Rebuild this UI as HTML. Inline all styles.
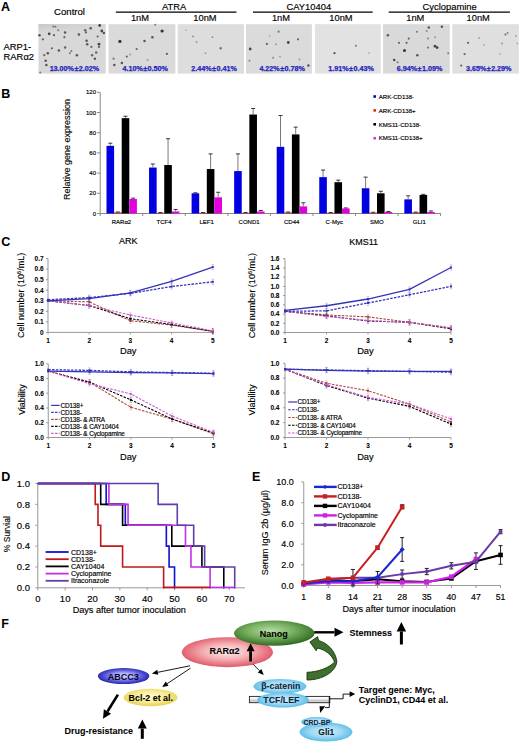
<!DOCTYPE html>
<html><head><meta charset="utf-8"><style>
html,body{margin:0;padding:0;background:#fff;}
svg{display:block;font-family:"Liberation Sans", sans-serif;}
</style></head><body>
<svg width="520" height="742" viewBox="0 0 520 742">
<rect width="520" height="742" fill="#fff"/>

<defs>
<filter id="fb" x="-100%" y="-100%" width="300%" height="300%"><feGaussianBlur stdDeviation="0.45"/></filter>
<linearGradient id="gTop" x1="0" y1="0" x2="1" y2="1"><stop offset="0" stop-color="#c4c4c4"/><stop offset="0.5" stop-color="#d4d4d4" stop-opacity="0.6"/><stop offset="1" stop-color="#dadada" stop-opacity="0"/></linearGradient>
<radialGradient id="gPink" cx="50%" cy="48%" r="52%"><stop offset="0" stop-color="#fdf0f0"/><stop offset="0.5" stop-color="#f4b0b4"/><stop offset="1" stop-color="#e05868"/></radialGradient>
<radialGradient id="gGreen" cx="45%" cy="40%" r="58%"><stop offset="0" stop-color="#b8dca8"/><stop offset="0.5" stop-color="#78b060"/><stop offset="1" stop-color="#346e26"/></radialGradient>
<radialGradient id="gBlue" cx="50%" cy="48%" r="52%"><stop offset="0" stop-color="#e0e0ff"/><stop offset="0.35" stop-color="#a8a8fa"/><stop offset="0.7" stop-color="#5858dc"/><stop offset="1" stop-color="#2424a8"/></radialGradient>
<radialGradient id="gYel" cx="50%" cy="45%" r="55%"><stop offset="0" stop-color="#fffbd8"/><stop offset="0.6" stop-color="#f8eb90"/><stop offset="1" stop-color="#e6d050"/></radialGradient>
<radialGradient id="gCyan" cx="50%" cy="48%" r="52%"><stop offset="0" stop-color="#d4f0fb"/><stop offset="0.55" stop-color="#a0daf3"/><stop offset="1" stop-color="#5cbde8"/></radialGradient>
<linearGradient id="gBar" x1="0" y1="0" x2="0" y2="1"><stop offset="0" stop-color="#ffffff"/><stop offset="0.45" stop-color="#f4f4f4"/><stop offset="0.55" stop-color="#c8c8c8"/><stop offset="1" stop-color="#d8d8d8"/></linearGradient>
<marker id="ah" markerWidth="6" markerHeight="6" refX="5.5" refY="3" orient="auto" markerUnits="userSpaceOnUse"><path d="M0,0 L6,3 L0,6 Z" fill="#000"/></marker>
</defs>

<text x="1.00" y="10.60" font-size="12.5" text-anchor="start" font-weight="bold" fill="#000" stroke="#000" stroke-width="0.06" >A</text>
<text x="69.50" y="14.80" font-size="9.6" text-anchor="middle" font-weight="normal" fill="#000" stroke="#000" stroke-width="0.16" >Control</text>
<text x="174.20" y="9.80" font-size="9.4" text-anchor="middle" font-weight="normal" fill="#000" stroke="#000" stroke-width="0.16" >ATRA</text>
<line x1="115.90" y1="12.10" x2="236.50" y2="12.10" stroke="#000" stroke-width="1.3" />
<text x="140.00" y="21.40" font-size="9.3" text-anchor="middle" font-weight="normal" fill="#000" stroke="#000" stroke-width="0.16" >1nM</text>
<text x="205.00" y="21.40" font-size="9.3" text-anchor="middle" font-weight="normal" fill="#000" stroke="#000" stroke-width="0.16" >10nM</text>
<text x="308.80" y="9.80" font-size="9.4" text-anchor="middle" font-weight="normal" fill="#000" stroke="#000" stroke-width="0.16" >CAY10404</text>
<line x1="253.00" y1="12.10" x2="372.70" y2="12.10" stroke="#000" stroke-width="1.3" />
<text x="281.00" y="21.40" font-size="9.3" text-anchor="middle" font-weight="normal" fill="#000" stroke="#000" stroke-width="0.16" >1nM</text>
<text x="341.00" y="21.40" font-size="9.3" text-anchor="middle" font-weight="normal" fill="#000" stroke="#000" stroke-width="0.16" >10nM</text>
<text x="449.70" y="9.80" font-size="9.4" text-anchor="middle" font-weight="normal" fill="#000" stroke="#000" stroke-width="0.16" >Cyclopamine</text>
<line x1="388.70" y1="12.10" x2="509.90" y2="12.10" stroke="#000" stroke-width="1.3" />
<text x="415.30" y="21.40" font-size="9.3" text-anchor="middle" font-weight="normal" fill="#000" stroke="#000" stroke-width="0.16" >1nM</text>
<text x="478.20" y="21.40" font-size="9.3" text-anchor="middle" font-weight="normal" fill="#000" stroke="#000" stroke-width="0.16" >10nM</text>
<text x="3.40" y="49.60" font-size="9.4" text-anchor="start" font-weight="normal" fill="#000" stroke="#000" stroke-width="0.16" >ARP1-</text>
<text x="3.60" y="60.30" font-size="9.4" text-anchor="start" font-weight="normal" fill="#000" stroke="#000" stroke-width="0.16" >RAR&#945;2</text>
<rect x="38.50" y="24.20" width="67.20" height="49.40" fill="#d8d8d8" />
<rect x="38.50" y="24.2" width="67.20" height="8" fill="url(#gTop)"/>
<circle cx="49.2" cy="33.8" r="1.38" fill="#444" filter="url(#fb)"/>
<circle cx="54.0" cy="35.2" r="1.12" fill="#666" filter="url(#fb)"/>
<circle cx="58.2" cy="30.3" r="1.00" fill="#777" filter="url(#fb)"/>
<circle cx="65.1" cy="32.4" r="1.25" fill="#555" filter="url(#fb)"/>
<circle cx="64.4" cy="37.2" r="1.12" fill="#666" filter="url(#fb)"/>
<circle cx="78.9" cy="34.5" r="1.25" fill="#555" filter="url(#fb)"/>
<circle cx="85.2" cy="30.3" r="1.25" fill="#666" filter="url(#fb)"/>
<circle cx="90.7" cy="28.2" r="1.25" fill="#555" filter="url(#fb)"/>
<circle cx="99.7" cy="25.5" r="1.38" fill="#444" filter="url(#fb)"/>
<circle cx="101.8" cy="31.0" r="1.38" fill="#444" filter="url(#fb)"/>
<circle cx="103.9" cy="33.1" r="1.25" fill="#555" filter="url(#fb)"/>
<circle cx="39.5" cy="35.2" r="1.25" fill="#555" filter="url(#fb)"/>
<circle cx="42.9" cy="39.3" r="1.12" fill="#666" filter="url(#fb)"/>
<circle cx="51.9" cy="48.3" r="1.12" fill="#666" filter="url(#fb)"/>
<circle cx="58.9" cy="50.4" r="1.25" fill="#555" filter="url(#fb)"/>
<circle cx="65.1" cy="47.6" r="1.25" fill="#666" filter="url(#fb)"/>
<circle cx="86.6" cy="40.7" r="1.25" fill="#555" filter="url(#fb)"/>
<circle cx="87.2" cy="44.2" r="1.25" fill="#555" filter="url(#fb)"/>
<circle cx="97.6" cy="36.5" r="1.12" fill="#666" filter="url(#fb)"/>
<circle cx="99.0" cy="44.2" r="1.38" fill="#444" filter="url(#fb)"/>
<circle cx="91.4" cy="46.9" r="1.12" fill="#666" filter="url(#fb)"/>
<circle cx="71.3" cy="51.1" r="1.00" fill="#777" filter="url(#fb)"/>
<circle cx="76.9" cy="55.2" r="1.25" fill="#555" filter="url(#fb)"/>
<circle cx="47.8" cy="53.2" r="1.25" fill="#555" filter="url(#fb)"/>
<circle cx="44.3" cy="55.2" r="1.12" fill="#666" filter="url(#fb)"/>
<circle cx="45.7" cy="60.8" r="1.25" fill="#555" filter="url(#fb)"/>
<circle cx="46.4" cy="64.9" r="1.25" fill="#555" filter="url(#fb)"/>
<circle cx="96.2" cy="52.5" r="1.25" fill="#666" filter="url(#fb)"/>
<circle cx="94.9" cy="58.7" r="1.25" fill="#555" filter="url(#fb)"/>
<circle cx="92.1" cy="55.2" r="1.25" fill="#666" filter="url(#fb)"/>
<circle cx="69.9" cy="53.2" r="1.00" fill="#777" filter="url(#fb)"/>
<circle cx="55.4" cy="26.8" r="1.00" fill="#777" filter="url(#fb)"/>
<circle cx="53.3" cy="26.4" r="1.00" fill="#777" filter="url(#fb)"/>
<circle cx="40.2" cy="72.6" r="1.00" fill="#777" filter="url(#fb)"/>
<circle cx="99.0" cy="46.9" r="1.12" fill="#666" filter="url(#fb)"/>
<circle cx="85.9" cy="32.4" r="1.12" fill="#666" filter="url(#fb)"/>
<text x="74.40" y="71.40" font-size="7.2" text-anchor="middle" font-weight="bold" fill="#2424c0"  stroke="#2424c0" stroke-width="0.25">13.00%<tspan dx="0.4">&#177;</tspan><tspan dx="0.4">2.02%</tspan></text>
<rect x="108.60" y="24.20" width="66.80" height="49.40" fill="#dadada" />
<circle cx="119.9" cy="41.4" r="1.62" fill="#333" filter="url(#fb)"/>
<circle cx="162.1" cy="31.0" r="1.62" fill="#333" filter="url(#fb)"/>
<circle cx="152.4" cy="37.2" r="1.25" fill="#555" filter="url(#fb)"/>
<circle cx="144.5" cy="41.1" r="1.25" fill="#555" filter="url(#fb)"/>
<circle cx="136.7" cy="49.0" r="1.12" fill="#666" filter="url(#fb)"/>
<circle cx="126.8" cy="56.6" r="1.12" fill="#666" filter="url(#fb)"/>
<circle cx="113.6" cy="58.7" r="1.12" fill="#777" filter="url(#fb)"/>
<circle cx="114.3" cy="64.9" r="1.25" fill="#555" filter="url(#fb)"/>
<circle cx="121.9" cy="62.9" r="1.25" fill="#555" filter="url(#fb)"/>
<circle cx="166.9" cy="53.9" r="1.12" fill="#666" filter="url(#fb)"/>
<circle cx="147.6" cy="60.1" r="1.00" fill="#999" filter="url(#fb)"/>
<circle cx="130.2" cy="54.5" r="1.00" fill="#999" filter="url(#fb)"/>
<circle cx="155.2" cy="24.8" r="1.00" fill="#777" filter="url(#fb)"/>
<text x="145.20" y="71.40" font-size="7.2" text-anchor="middle" font-weight="bold" fill="#2424c0"  stroke="#2424c0" stroke-width="0.25">4.10%<tspan dx="0.4">&#177;</tspan><tspan dx="0.4">0.50%</tspan></text>
<rect x="177.70" y="24.20" width="66.30" height="49.40" fill="#dddddd" />
<circle cx="193.0" cy="36.5" r="0.88" fill="#888" filter="url(#fb)"/>
<circle cx="196.5" cy="42.1" r="1.00" fill="#999" filter="url(#fb)"/>
<circle cx="212.4" cy="37.2" r="0.88" fill="#888" filter="url(#fb)"/>
<circle cx="220.7" cy="48.3" r="1.25" fill="#777" filter="url(#fb)"/>
<circle cx="205.5" cy="53.2" r="0.88" fill="#999" filter="url(#fb)"/>
<circle cx="186.1" cy="30.3" r="0.75" fill="#999" filter="url(#fb)"/>
<text x="214.05" y="71.40" font-size="7.2" text-anchor="middle" font-weight="bold" fill="#2424c0"  stroke="#2424c0" stroke-width="0.25">2.44%<tspan dx="0.4">&#177;</tspan><tspan dx="0.4">0.41%</tspan></text>
<rect x="246.00" y="24.20" width="65.90" height="49.40" fill="#dbdbdb" />
<circle cx="278.6" cy="31.7" r="1.12" fill="#777" filter="url(#fb)"/>
<circle cx="288.3" cy="42.5" r="1.38" fill="#444" filter="url(#fb)"/>
<circle cx="298.0" cy="39.3" r="1.12" fill="#666" filter="url(#fb)"/>
<circle cx="266.9" cy="43.9" r="1.12" fill="#666" filter="url(#fb)"/>
<circle cx="250.2" cy="49.0" r="1.38" fill="#444" filter="url(#fb)"/>
<circle cx="275.9" cy="44.2" r="1.00" fill="#999" filter="url(#fb)"/>
<circle cx="249.5" cy="60.8" r="1.00" fill="#888" filter="url(#fb)"/>
<circle cx="273.1" cy="57.7" r="1.00" fill="#888" filter="url(#fb)"/>
<circle cx="280.0" cy="56.6" r="0.88" fill="#999" filter="url(#fb)"/>
<circle cx="299.4" cy="59.4" r="1.00" fill="#999" filter="url(#fb)"/>
<circle cx="308.4" cy="65.6" r="1.25" fill="#555" filter="url(#fb)"/>
<circle cx="269.6" cy="35.9" r="0.88" fill="#aaa" filter="url(#fb)"/>
<text x="282.15" y="71.40" font-size="7.2" text-anchor="middle" font-weight="bold" fill="#2424c0"  stroke="#2424c0" stroke-width="0.25">4.22%<tspan dx="0.4">&#177;</tspan><tspan dx="0.4">0.78%</tspan></text>
<rect x="315.00" y="24.20" width="65.80" height="49.40" fill="#e2e2e2" />
<circle cx="334.5" cy="53.2" r="1.12" fill="#555" filter="url(#fb)"/>
<circle cx="355.9" cy="45.8" r="1.00" fill="#777" filter="url(#fb)"/>
<circle cx="369.1" cy="53.2" r="0.88" fill="#aaa" filter="url(#fb)"/>
<text x="351.10" y="71.40" font-size="7.2" text-anchor="middle" font-weight="bold" fill="#2424c0"  stroke="#2424c0" stroke-width="0.25">1.91%<tspan dx="0.4">&#177;</tspan><tspan dx="0.4">0.43%</tspan></text>
<rect x="383.00" y="24.20" width="66.80" height="49.40" fill="#d9d9d9" />
<circle cx="387.9" cy="35.2" r="1.25" fill="#555" filter="url(#fb)"/>
<circle cx="428.8" cy="27.5" r="1.25" fill="#555" filter="url(#fb)"/>
<circle cx="441.9" cy="26.8" r="1.25" fill="#555" filter="url(#fb)"/>
<circle cx="417.0" cy="31.7" r="1.00" fill="#777" filter="url(#fb)"/>
<circle cx="426.7" cy="31.0" r="1.00" fill="#888" filter="url(#fb)"/>
<circle cx="408.7" cy="38.6" r="1.12" fill="#666" filter="url(#fb)"/>
<circle cx="399.0" cy="42.8" r="1.12" fill="#666" filter="url(#fb)"/>
<circle cx="406.6" cy="42.8" r="1.12" fill="#666" filter="url(#fb)"/>
<circle cx="428.1" cy="38.6" r="1.00" fill="#888" filter="url(#fb)"/>
<circle cx="435.0" cy="46.2" r="1.38" fill="#444" filter="url(#fb)"/>
<circle cx="437.1" cy="47.6" r="1.38" fill="#444" filter="url(#fb)"/>
<circle cx="428.1" cy="47.6" r="1.12" fill="#777" filter="url(#fb)"/>
<circle cx="404.5" cy="50.4" r="1.50" fill="#333" filter="url(#fb)"/>
<circle cx="417.3" cy="55.2" r="1.25" fill="#555" filter="url(#fb)"/>
<circle cx="394.2" cy="60.1" r="1.25" fill="#444" filter="url(#fb)"/>
<circle cx="397.6" cy="62.2" r="1.00" fill="#777" filter="url(#fb)"/>
<circle cx="448.2" cy="53.2" r="1.00" fill="#777" filter="url(#fb)"/>
<circle cx="435.0" cy="37.2" r="1.00" fill="#999" filter="url(#fb)"/>
<text x="419.60" y="71.40" font-size="7.2" text-anchor="middle" font-weight="bold" fill="#2424c0"  stroke="#2424c0" stroke-width="0.25">6.94%<tspan dx="0.4">&#177;</tspan><tspan dx="0.4">1.09%</tspan></text>
<rect x="452.30" y="24.20" width="66.50" height="49.40" fill="#dfdfdf" />
<circle cx="468.1" cy="42.8" r="1.12" fill="#666" filter="url(#fb)"/>
<circle cx="464.6" cy="54.1" r="1.12" fill="#666" filter="url(#fb)"/>
<circle cx="461.2" cy="65.6" r="1.12" fill="#666" filter="url(#fb)"/>
<circle cx="505.5" cy="34.5" r="1.12" fill="#777" filter="url(#fb)"/>
<circle cx="507.6" cy="33.1" r="1.00" fill="#888" filter="url(#fb)"/>
<circle cx="502.0" cy="43.5" r="1.00" fill="#999" filter="url(#fb)"/>
<circle cx="515.9" cy="35.9" r="0.88" fill="#999" filter="url(#fb)"/>
<circle cx="479.2" cy="37.9" r="0.88" fill="#999" filter="url(#fb)"/>
<circle cx="484.0" cy="44.9" r="0.88" fill="#aaa" filter="url(#fb)"/>
<circle cx="499.9" cy="53.9" r="0.88" fill="#aaa" filter="url(#fb)"/>
<circle cx="517.3" cy="43.5" r="0.88" fill="#aaa" filter="url(#fb)"/>
<text x="488.75" y="71.40" font-size="7.2" text-anchor="middle" font-weight="bold" fill="#2424c0"  stroke="#2424c0" stroke-width="0.25">3.65%<tspan dx="0.4">&#177;</tspan><tspan dx="0.4">2.29%</tspan></text>
<text x="1.20" y="98.00" font-size="12.5" text-anchor="start" font-weight="bold" fill="#000" stroke="#000" stroke-width="0.06" >B</text>
<line x1="100.20" y1="92.40" x2="100.20" y2="213.50" stroke="#888" stroke-width="1" />
<line x1="100.20" y1="213.50" x2="440.80" y2="213.50" stroke="#888" stroke-width="1" />
<line x1="97.20" y1="213.50" x2="100.20" y2="213.50" stroke="#888" stroke-width="1" />
<text x="96.00" y="215.60" font-size="6" text-anchor="end" font-weight="normal" fill="#000" stroke="#000" stroke-width="0.16" >0</text>
<line x1="97.20" y1="193.30" x2="100.20" y2="193.30" stroke="#888" stroke-width="1" />
<text x="96.00" y="195.40" font-size="6" text-anchor="end" font-weight="normal" fill="#000" stroke="#000" stroke-width="0.16" >20</text>
<line x1="97.20" y1="173.10" x2="100.20" y2="173.10" stroke="#888" stroke-width="1" />
<text x="96.00" y="175.20" font-size="6" text-anchor="end" font-weight="normal" fill="#000" stroke="#000" stroke-width="0.16" >40</text>
<line x1="97.20" y1="152.90" x2="100.20" y2="152.90" stroke="#888" stroke-width="1" />
<text x="96.00" y="155.00" font-size="6" text-anchor="end" font-weight="normal" fill="#000" stroke="#000" stroke-width="0.16" >60</text>
<line x1="97.20" y1="132.70" x2="100.20" y2="132.70" stroke="#888" stroke-width="1" />
<text x="96.00" y="134.80" font-size="6" text-anchor="end" font-weight="normal" fill="#000" stroke="#000" stroke-width="0.16" >80</text>
<line x1="97.20" y1="112.50" x2="100.20" y2="112.50" stroke="#888" stroke-width="1" />
<text x="96.00" y="114.60" font-size="6" text-anchor="end" font-weight="normal" fill="#000" stroke="#000" stroke-width="0.16" >100</text>
<line x1="97.20" y1="92.30" x2="100.20" y2="92.30" stroke="#888" stroke-width="1" />
<text x="96.00" y="94.40" font-size="6" text-anchor="end" font-weight="normal" fill="#000" stroke="#000" stroke-width="0.16" >120</text>
<line x1="100.20" y1="213.50" x2="100.20" y2="216.00" stroke="#888" stroke-width="1" />
<line x1="142.75" y1="213.50" x2="142.75" y2="216.00" stroke="#888" stroke-width="1" />
<line x1="185.30" y1="213.50" x2="185.30" y2="216.00" stroke="#888" stroke-width="1" />
<line x1="227.85" y1="213.50" x2="227.85" y2="216.00" stroke="#888" stroke-width="1" />
<line x1="270.40" y1="213.50" x2="270.40" y2="216.00" stroke="#888" stroke-width="1" />
<line x1="312.95" y1="213.50" x2="312.95" y2="216.00" stroke="#888" stroke-width="1" />
<line x1="355.50" y1="213.50" x2="355.50" y2="216.00" stroke="#888" stroke-width="1" />
<line x1="398.05" y1="213.50" x2="398.05" y2="216.00" stroke="#888" stroke-width="1" />
<line x1="440.60" y1="213.50" x2="440.60" y2="216.00" stroke="#888" stroke-width="1" />
<rect x="106.50" y="145.83" width="7.60" height="67.67" fill="#0000e0" />
<line x1="110.30" y1="143.20" x2="110.30" y2="145.83" stroke="#555" stroke-width="0.8" />
<line x1="108.30" y1="143.20" x2="112.30" y2="143.20" stroke="#333" stroke-width="1" />
<rect x="114.10" y="212.49" width="7.60" height="1.01" fill="#c01010" />
<line x1="117.90" y1="211.99" x2="117.90" y2="212.49" stroke="#555" stroke-width="0.8" />
<line x1="115.90" y1="211.99" x2="119.90" y2="211.99" stroke="#333" stroke-width="1" />
<rect x="121.70" y="118.16" width="7.60" height="95.34" fill="#000000" />
<line x1="125.50" y1="116.24" x2="125.50" y2="118.16" stroke="#555" stroke-width="0.8" />
<line x1="123.50" y1="116.24" x2="127.50" y2="116.24" stroke="#333" stroke-width="1" />
<rect x="129.30" y="198.96" width="7.60" height="14.54" fill="#e000e0" />
<line x1="133.10" y1="198.15" x2="133.10" y2="198.96" stroke="#555" stroke-width="0.8" />
<line x1="131.10" y1="198.15" x2="135.10" y2="198.15" stroke="#333" stroke-width="1" />
<text x="121.47" y="223.50" font-size="6" text-anchor="middle" font-weight="normal" fill="#000" stroke="#000" stroke-width="0.16" >RAR&#945;2</text>
<rect x="149.05" y="167.55" width="7.60" height="45.95" fill="#0000e0" />
<line x1="152.85" y1="164.01" x2="152.85" y2="167.55" stroke="#555" stroke-width="0.8" />
<line x1="150.85" y1="164.01" x2="154.85" y2="164.01" stroke="#333" stroke-width="1" />
<rect x="156.65" y="212.89" width="7.60" height="0.61" fill="#c01010" />
<line x1="160.45" y1="212.49" x2="160.45" y2="212.89" stroke="#555" stroke-width="0.8" />
<line x1="158.45" y1="212.49" x2="162.45" y2="212.49" stroke="#333" stroke-width="1" />
<rect x="164.25" y="165.02" width="7.60" height="48.48" fill="#000000" />
<line x1="168.05" y1="138.76" x2="168.05" y2="165.02" stroke="#555" stroke-width="0.8" />
<line x1="166.05" y1="138.76" x2="170.05" y2="138.76" stroke="#333" stroke-width="1" />
<rect x="171.85" y="211.48" width="7.60" height="2.02" fill="#e000e0" />
<line x1="175.65" y1="209.46" x2="175.65" y2="211.48" stroke="#555" stroke-width="0.8" />
<line x1="173.65" y1="209.46" x2="177.65" y2="209.46" stroke="#333" stroke-width="1" />
<text x="164.03" y="223.50" font-size="6" text-anchor="middle" font-weight="normal" fill="#000" stroke="#000" stroke-width="0.16" >TCF4</text>
<rect x="191.60" y="193.30" width="7.60" height="20.20" fill="#0000e0" />
<line x1="195.40" y1="192.79" x2="195.40" y2="193.30" stroke="#555" stroke-width="0.8" />
<line x1="193.40" y1="192.79" x2="197.40" y2="192.79" stroke="#333" stroke-width="1" />
<rect x="199.20" y="212.89" width="7.60" height="0.61" fill="#c01010" />
<line x1="203.00" y1="212.49" x2="203.00" y2="212.89" stroke="#555" stroke-width="0.8" />
<line x1="201.00" y1="212.49" x2="205.00" y2="212.49" stroke="#333" stroke-width="1" />
<rect x="206.80" y="169.06" width="7.60" height="44.44" fill="#000000" />
<line x1="210.60" y1="153.91" x2="210.60" y2="169.06" stroke="#555" stroke-width="0.8" />
<line x1="208.60" y1="153.91" x2="212.60" y2="153.91" stroke="#333" stroke-width="1" />
<rect x="214.40" y="197.34" width="7.60" height="16.16" fill="#e000e0" />
<line x1="218.20" y1="192.29" x2="218.20" y2="197.34" stroke="#555" stroke-width="0.8" />
<line x1="216.20" y1="192.29" x2="220.20" y2="192.29" stroke="#333" stroke-width="1" />
<text x="206.58" y="223.50" font-size="6" text-anchor="middle" font-weight="normal" fill="#000" stroke="#000" stroke-width="0.16" >LEF1</text>
<rect x="234.15" y="171.08" width="7.60" height="42.42" fill="#0000e0" />
<line x1="237.95" y1="153.91" x2="237.95" y2="171.08" stroke="#555" stroke-width="0.8" />
<line x1="235.95" y1="153.91" x2="239.95" y2="153.91" stroke="#333" stroke-width="1" />
<rect x="241.75" y="212.89" width="7.60" height="0.61" fill="#c01010" />
<line x1="245.55" y1="212.49" x2="245.55" y2="212.89" stroke="#555" stroke-width="0.8" />
<line x1="243.55" y1="212.49" x2="247.55" y2="212.49" stroke="#333" stroke-width="1" />
<rect x="249.35" y="114.52" width="7.60" height="98.98" fill="#000000" />
<line x1="253.15" y1="108.46" x2="253.15" y2="114.52" stroke="#555" stroke-width="0.8" />
<line x1="251.15" y1="108.46" x2="255.15" y2="108.46" stroke="#333" stroke-width="1" />
<rect x="256.95" y="211.48" width="7.60" height="2.02" fill="#e000e0" />
<line x1="260.75" y1="210.47" x2="260.75" y2="211.48" stroke="#555" stroke-width="0.8" />
<line x1="258.75" y1="210.47" x2="262.75" y2="210.47" stroke="#333" stroke-width="1" />
<text x="249.12" y="223.50" font-size="6" text-anchor="middle" font-weight="normal" fill="#000" stroke="#000" stroke-width="0.16" >COND1</text>
<rect x="276.70" y="146.84" width="7.60" height="66.66" fill="#0000e0" />
<line x1="280.50" y1="115.53" x2="280.50" y2="146.84" stroke="#555" stroke-width="0.8" />
<line x1="278.50" y1="115.53" x2="282.50" y2="115.53" stroke="#333" stroke-width="1" />
<rect x="284.30" y="212.49" width="7.60" height="1.01" fill="#c01010" />
<line x1="288.10" y1="211.99" x2="288.10" y2="212.49" stroke="#555" stroke-width="0.8" />
<line x1="286.10" y1="211.99" x2="290.10" y2="211.99" stroke="#333" stroke-width="1" />
<rect x="291.90" y="134.42" width="7.60" height="79.08" fill="#000000" />
<line x1="295.70" y1="127.14" x2="295.70" y2="134.42" stroke="#555" stroke-width="0.8" />
<line x1="293.70" y1="127.14" x2="297.70" y2="127.14" stroke="#333" stroke-width="1" />
<rect x="299.50" y="206.43" width="7.60" height="7.07" fill="#e000e0" />
<line x1="303.30" y1="202.79" x2="303.30" y2="206.43" stroke="#555" stroke-width="0.8" />
<line x1="301.30" y1="202.79" x2="305.30" y2="202.79" stroke="#333" stroke-width="1" />
<text x="291.67" y="223.50" font-size="6" text-anchor="middle" font-weight="normal" fill="#000" stroke="#000" stroke-width="0.16" >CD44</text>
<rect x="319.25" y="177.14" width="7.60" height="36.36" fill="#0000e0" />
<line x1="323.05" y1="170.07" x2="323.05" y2="177.14" stroke="#555" stroke-width="0.8" />
<line x1="321.05" y1="170.07" x2="325.05" y2="170.07" stroke="#333" stroke-width="1" />
<rect x="326.85" y="212.89" width="7.60" height="0.61" fill="#c01010" />
<line x1="330.65" y1="212.49" x2="330.65" y2="212.89" stroke="#555" stroke-width="0.8" />
<line x1="328.65" y1="212.49" x2="332.65" y2="212.49" stroke="#333" stroke-width="1" />
<rect x="334.45" y="182.19" width="7.60" height="31.31" fill="#000000" />
<line x1="338.25" y1="180.17" x2="338.25" y2="182.19" stroke="#555" stroke-width="0.8" />
<line x1="336.25" y1="180.17" x2="340.25" y2="180.17" stroke="#333" stroke-width="1" />
<rect x="342.05" y="208.45" width="7.60" height="5.05" fill="#e000e0" />
<line x1="345.85" y1="207.94" x2="345.85" y2="208.45" stroke="#555" stroke-width="0.8" />
<line x1="343.85" y1="207.94" x2="347.85" y2="207.94" stroke="#333" stroke-width="1" />
<text x="334.22" y="223.50" font-size="6" text-anchor="middle" font-weight="normal" fill="#000" stroke="#000" stroke-width="0.16" >C-Myc</text>
<rect x="361.80" y="188.25" width="7.60" height="25.25" fill="#0000e0" />
<line x1="365.60" y1="177.14" x2="365.60" y2="188.25" stroke="#555" stroke-width="0.8" />
<line x1="363.60" y1="177.14" x2="367.60" y2="177.14" stroke="#333" stroke-width="1" />
<rect x="369.40" y="212.69" width="7.60" height="0.81" fill="#c01010" />
<line x1="373.20" y1="212.29" x2="373.20" y2="212.69" stroke="#555" stroke-width="0.8" />
<line x1="371.20" y1="212.29" x2="375.20" y2="212.29" stroke="#333" stroke-width="1" />
<rect x="377.00" y="193.30" width="7.60" height="20.20" fill="#000000" />
<line x1="380.80" y1="191.28" x2="380.80" y2="193.30" stroke="#555" stroke-width="0.8" />
<line x1="378.80" y1="191.28" x2="382.80" y2="191.28" stroke="#333" stroke-width="1" />
<rect x="384.60" y="211.99" width="7.60" height="1.52" fill="#e000e0" />
<line x1="388.40" y1="211.48" x2="388.40" y2="211.99" stroke="#555" stroke-width="0.8" />
<line x1="386.40" y1="211.48" x2="390.40" y2="211.48" stroke="#333" stroke-width="1" />
<text x="376.77" y="223.50" font-size="6" text-anchor="middle" font-weight="normal" fill="#000" stroke="#000" stroke-width="0.16" >SMO</text>
<rect x="404.35" y="199.36" width="7.60" height="14.14" fill="#0000e0" />
<line x1="408.15" y1="195.82" x2="408.15" y2="199.36" stroke="#555" stroke-width="0.8" />
<line x1="406.15" y1="195.82" x2="410.15" y2="195.82" stroke="#333" stroke-width="1" />
<rect x="411.95" y="212.49" width="7.60" height="1.01" fill="#c01010" />
<line x1="415.75" y1="212.09" x2="415.75" y2="212.49" stroke="#555" stroke-width="0.8" />
<line x1="413.75" y1="212.09" x2="417.75" y2="212.09" stroke="#333" stroke-width="1" />
<rect x="419.55" y="194.92" width="7.60" height="18.58" fill="#000000" />
<line x1="423.35" y1="194.31" x2="423.35" y2="194.92" stroke="#555" stroke-width="0.8" />
<line x1="421.35" y1="194.31" x2="425.35" y2="194.31" stroke="#333" stroke-width="1" />
<rect x="427.15" y="211.99" width="7.60" height="1.52" fill="#e000e0" />
<line x1="430.95" y1="210.97" x2="430.95" y2="211.99" stroke="#555" stroke-width="0.8" />
<line x1="428.95" y1="210.97" x2="432.95" y2="210.97" stroke="#333" stroke-width="1" />
<text x="419.32" y="223.50" font-size="6" text-anchor="middle" font-weight="normal" fill="#000" stroke="#000" stroke-width="0.16" >GLI1</text>
<text transform="translate(70,149.5) rotate(-90)" x="0" y="0" font-size="9" text-anchor="middle" fill="#000" stroke="#000" stroke-width="0.12">Relative gene expression</text>
<rect x="373.40" y="95.20" width="2.60" height="2.60" fill="#0000e0" />
<text x="378.80" y="98.70" font-size="6.05" text-anchor="start" font-weight="normal" fill="#000" stroke="#000" stroke-width="0.16" >ARK-CD138-</text>
<rect x="373.40" y="109.10" width="2.60" height="2.60" fill="#e03010" />
<text x="378.80" y="112.60" font-size="6.05" text-anchor="start" font-weight="normal" fill="#000" stroke="#000" stroke-width="0.16" >ARK-CD138+</text>
<rect x="373.40" y="123.00" width="2.60" height="2.60" fill="#000000" />
<text x="378.80" y="126.50" font-size="6.05" text-anchor="start" font-weight="normal" fill="#000" stroke="#000" stroke-width="0.16" >KMS11-CD138-</text>
<rect x="373.40" y="136.90" width="2.60" height="2.60" fill="#c040e0" />
<text x="378.80" y="140.40" font-size="6.05" text-anchor="start" font-weight="normal" fill="#000" stroke="#000" stroke-width="0.16" >KMS11-CD138+</text>
<text x="1.20" y="246.20" font-size="12.5" text-anchor="start" font-weight="bold" fill="#000" stroke="#000" stroke-width="0.06" >C</text>
<text x="128.25" y="244.10" font-size="9" text-anchor="middle" font-weight="normal" fill="#000" stroke="#000" stroke-width="0.16" >ARK</text>
<text x="363.70" y="244.50" font-size="9" text-anchor="middle" font-weight="normal" fill="#000" stroke="#000" stroke-width="0.16" >KMS11</text>
<line x1="48.00" y1="258.60" x2="48.00" y2="332.40" stroke="#999" stroke-width="1" />
<line x1="48.00" y1="332.40" x2="212.80" y2="332.40" stroke="#999" stroke-width="1" />
<line x1="46.00" y1="332.40" x2="48.00" y2="332.40" stroke="#999" stroke-width="1" />
<text x="43.60" y="334.70" font-size="6.5" text-anchor="end" font-weight="bold" fill="#000" stroke="#000" stroke-width="0.06" >0</text>
<line x1="46.00" y1="321.86" x2="48.00" y2="321.86" stroke="#999" stroke-width="1" />
<text x="43.60" y="324.16" font-size="6.5" text-anchor="end" font-weight="bold" fill="#000" stroke="#000" stroke-width="0.06" >0.1</text>
<line x1="46.00" y1="311.32" x2="48.00" y2="311.32" stroke="#999" stroke-width="1" />
<text x="43.60" y="313.62" font-size="6.5" text-anchor="end" font-weight="bold" fill="#000" stroke="#000" stroke-width="0.06" >0.2</text>
<line x1="46.00" y1="300.78" x2="48.00" y2="300.78" stroke="#999" stroke-width="1" />
<text x="43.60" y="303.08" font-size="6.5" text-anchor="end" font-weight="bold" fill="#000" stroke="#000" stroke-width="0.06" >0.3</text>
<line x1="46.00" y1="290.24" x2="48.00" y2="290.24" stroke="#999" stroke-width="1" />
<text x="43.60" y="292.54" font-size="6.5" text-anchor="end" font-weight="bold" fill="#000" stroke="#000" stroke-width="0.06" >0.4</text>
<line x1="46.00" y1="279.70" x2="48.00" y2="279.70" stroke="#999" stroke-width="1" />
<text x="43.60" y="282.00" font-size="6.5" text-anchor="end" font-weight="bold" fill="#000" stroke="#000" stroke-width="0.06" >0.5</text>
<line x1="46.00" y1="269.16" x2="48.00" y2="269.16" stroke="#999" stroke-width="1" />
<text x="43.60" y="271.46" font-size="6.5" text-anchor="end" font-weight="bold" fill="#000" stroke="#000" stroke-width="0.06" >0.6</text>
<line x1="46.00" y1="258.62" x2="48.00" y2="258.62" stroke="#999" stroke-width="1" />
<text x="43.60" y="260.92" font-size="6.5" text-anchor="end" font-weight="bold" fill="#000" stroke="#000" stroke-width="0.06" >0.7</text>
<line x1="48.00" y1="332.40" x2="48.00" y2="334.40" stroke="#999" stroke-width="1" />
<text x="48.00" y="342.70" font-size="6.5" text-anchor="middle" font-weight="bold" fill="#000" stroke="#000" stroke-width="0.06" >1</text>
<line x1="89.20" y1="332.40" x2="89.20" y2="334.40" stroke="#999" stroke-width="1" />
<text x="89.20" y="342.70" font-size="6.5" text-anchor="middle" font-weight="bold" fill="#000" stroke="#000" stroke-width="0.06" >2</text>
<line x1="130.40" y1="332.40" x2="130.40" y2="334.40" stroke="#999" stroke-width="1" />
<text x="130.40" y="342.70" font-size="6.5" text-anchor="middle" font-weight="bold" fill="#000" stroke="#000" stroke-width="0.06" >3</text>
<line x1="171.60" y1="332.40" x2="171.60" y2="334.40" stroke="#999" stroke-width="1" />
<text x="171.60" y="342.70" font-size="6.5" text-anchor="middle" font-weight="bold" fill="#000" stroke="#000" stroke-width="0.06" >4</text>
<line x1="212.80" y1="332.40" x2="212.80" y2="334.40" stroke="#999" stroke-width="1" />
<text x="212.80" y="342.70" font-size="6.5" text-anchor="middle" font-weight="bold" fill="#000" stroke="#000" stroke-width="0.06" >5</text>
<polyline points="48.00,300.78 89.20,301.83 130.40,320.81 171.60,325.02 212.80,331.35" fill="none" stroke="#a84a38" stroke-width="1.1" stroke-dasharray="2.5,1.3" stroke-linejoin="round"/>
<rect x="47.00" y="299.78" width="2" height="2" fill="#a84a38"/>
<rect x="88.20" y="300.83" width="2" height="2" fill="#a84a38"/>
<path d="M89.20,299.23V304.43M88.00,299.23H90.40M88.00,304.43H90.40" stroke="#a84a38" stroke-width="0.6" opacity="0.4" fill="none"/>
<rect x="129.40" y="319.81" width="2" height="2" fill="#a84a38"/>
<path d="M130.40,318.21V323.41M129.20,318.21H131.60M129.20,323.41H131.60" stroke="#a84a38" stroke-width="0.6" opacity="0.4" fill="none"/>
<rect x="170.60" y="324.02" width="2" height="2" fill="#a84a38"/>
<path d="M171.60,322.42V327.62M170.40,322.42H172.80M170.40,327.62H172.80" stroke="#a84a38" stroke-width="0.6" opacity="0.4" fill="none"/>
<rect x="211.80" y="330.35" width="2" height="2" fill="#a84a38"/>
<path d="M212.80,328.75V333.95M211.60,328.75H214.00M211.60,333.95H214.00" stroke="#a84a38" stroke-width="0.6" opacity="0.4" fill="none"/>
<polyline points="48.00,300.78 89.20,305.52 130.40,318.70 171.60,324.50 212.80,331.35" fill="none" stroke="#000000" stroke-width="1.1" stroke-dasharray="2.5,1.3" stroke-linejoin="round"/>
<rect x="47.00" y="299.78" width="2" height="2" fill="#000000"/>
<rect x="88.20" y="304.52" width="2" height="2" fill="#000000"/>
<path d="M89.20,302.92V308.12M88.00,302.92H90.40M88.00,308.12H90.40" stroke="#000000" stroke-width="0.6" opacity="0.4" fill="none"/>
<rect x="129.40" y="317.70" width="2" height="2" fill="#000000"/>
<path d="M130.40,316.10V321.30M129.20,316.10H131.60M129.20,321.30H131.60" stroke="#000000" stroke-width="0.6" opacity="0.4" fill="none"/>
<rect x="170.60" y="323.50" width="2" height="2" fill="#000000"/>
<path d="M171.60,321.89V327.10M170.40,321.89H172.80M170.40,327.10H172.80" stroke="#000000" stroke-width="0.6" opacity="0.4" fill="none"/>
<rect x="211.80" y="330.35" width="2" height="2" fill="#000000"/>
<path d="M212.80,328.75V333.95M211.60,328.75H214.00M211.60,333.95H214.00" stroke="#000000" stroke-width="0.6" opacity="0.4" fill="none"/>
<polyline points="48.00,300.78 89.20,305.52 130.40,315.01 171.60,322.91 212.80,330.82" fill="none" stroke="#cc5ad4" stroke-width="1.1" stroke-dasharray="2.5,1.3" stroke-linejoin="round"/>
<rect x="47.00" y="299.78" width="2" height="2" fill="#cc5ad4"/>
<rect x="88.20" y="304.52" width="2" height="2" fill="#cc5ad4"/>
<path d="M89.20,302.92V308.12M88.00,302.92H90.40M88.00,308.12H90.40" stroke="#cc5ad4" stroke-width="0.6" opacity="0.4" fill="none"/>
<rect x="129.40" y="314.01" width="2" height="2" fill="#cc5ad4"/>
<path d="M130.40,312.41V317.61M129.20,312.41H131.60M129.20,317.61H131.60" stroke="#cc5ad4" stroke-width="0.6" opacity="0.4" fill="none"/>
<rect x="170.60" y="321.91" width="2" height="2" fill="#cc5ad4"/>
<path d="M171.60,320.31V325.51M170.40,320.31H172.80M170.40,325.51H172.80" stroke="#cc5ad4" stroke-width="0.6" opacity="0.4" fill="none"/>
<rect x="211.80" y="329.82" width="2" height="2" fill="#cc5ad4"/>
<path d="M212.80,328.22V333.42M211.60,328.22H214.00M211.60,333.42H214.00" stroke="#cc5ad4" stroke-width="0.6" opacity="0.4" fill="none"/>
<polyline points="48.00,299.73 89.20,297.62 130.40,293.40 171.60,286.55 212.80,281.81" fill="none" stroke="#3434b8" stroke-width="1.3" stroke-dasharray="2.5,1.3" stroke-linejoin="round"/>
<rect x="47.00" y="298.73" width="2" height="2" fill="#3434b8"/>
<rect x="88.20" y="296.62" width="2" height="2" fill="#3434b8"/>
<path d="M89.20,295.02V300.22M88.00,295.02H90.40M88.00,300.22H90.40" stroke="#3434b8" stroke-width="0.6" opacity="0.4" fill="none"/>
<rect x="129.40" y="292.40" width="2" height="2" fill="#3434b8"/>
<path d="M130.40,290.80V296.00M129.20,290.80H131.60M129.20,296.00H131.60" stroke="#3434b8" stroke-width="0.6" opacity="0.4" fill="none"/>
<rect x="170.60" y="285.55" width="2" height="2" fill="#3434b8"/>
<path d="M171.60,283.95V289.15M170.40,283.95H172.80M170.40,289.15H172.80" stroke="#3434b8" stroke-width="0.6" opacity="0.4" fill="none"/>
<rect x="211.80" y="280.81" width="2" height="2" fill="#3434b8"/>
<path d="M212.80,279.21V284.41M211.60,279.21H214.00M211.60,284.41H214.00" stroke="#3434b8" stroke-width="0.6" opacity="0.4" fill="none"/>
<polyline points="48.00,300.78 89.20,298.67 130.40,292.88 171.60,281.39 212.80,267.05" fill="none" stroke="#3434b8" stroke-width="1.3"  stroke-linejoin="round"/>
<rect x="47.00" y="299.78" width="2" height="2" fill="#3434b8"/>
<rect x="88.20" y="297.67" width="2" height="2" fill="#3434b8"/>
<path d="M89.20,296.07V301.27M88.00,296.07H90.40M88.00,301.27H90.40" stroke="#3434b8" stroke-width="0.6" opacity="0.4" fill="none"/>
<rect x="129.40" y="291.88" width="2" height="2" fill="#3434b8"/>
<path d="M130.40,290.27V295.48M129.20,290.27H131.60M129.20,295.48H131.60" stroke="#3434b8" stroke-width="0.6" opacity="0.4" fill="none"/>
<rect x="170.60" y="280.39" width="2" height="2" fill="#3434b8"/>
<path d="M171.60,278.79V283.99M170.40,278.79H172.80M170.40,283.99H172.80" stroke="#3434b8" stroke-width="0.6" opacity="0.4" fill="none"/>
<rect x="211.80" y="266.05" width="2" height="2" fill="#3434b8"/>
<path d="M212.80,264.45V269.65M211.60,264.45H214.00M211.60,269.65H214.00" stroke="#3434b8" stroke-width="0.6" opacity="0.4" fill="none"/>
<text transform="translate(24.3,295.4) rotate(-90)" font-size="9" text-anchor="middle" stroke="#000" stroke-width="0.12">Cell number (10<tspan font-size="5.5" dy="-3">6</tspan><tspan dy="3">/mL)</tspan></text>
<text x="128.20" y="354.20" font-size="9.3" text-anchor="middle" font-weight="normal" fill="#000" stroke="#000" stroke-width="0.16" >Day</text>
<line x1="285.00" y1="258.70" x2="285.00" y2="332.50" stroke="#999" stroke-width="1" />
<line x1="285.00" y1="332.50" x2="451.00" y2="332.50" stroke="#999" stroke-width="1" />
<line x1="283.00" y1="332.50" x2="285.00" y2="332.50" stroke="#999" stroke-width="1" />
<text x="279.50" y="334.80" font-size="6.5" text-anchor="end" font-weight="bold" fill="#000" stroke="#000" stroke-width="0.06" >0.0</text>
<line x1="283.00" y1="323.27" x2="285.00" y2="323.27" stroke="#999" stroke-width="1" />
<text x="279.50" y="325.57" font-size="6.5" text-anchor="end" font-weight="bold" fill="#000" stroke="#000" stroke-width="0.06" >0.2</text>
<line x1="283.00" y1="314.05" x2="285.00" y2="314.05" stroke="#999" stroke-width="1" />
<text x="279.50" y="316.35" font-size="6.5" text-anchor="end" font-weight="bold" fill="#000" stroke="#000" stroke-width="0.06" >0.4</text>
<line x1="283.00" y1="304.82" x2="285.00" y2="304.82" stroke="#999" stroke-width="1" />
<text x="279.50" y="307.12" font-size="6.5" text-anchor="end" font-weight="bold" fill="#000" stroke="#000" stroke-width="0.06" >0.6</text>
<line x1="283.00" y1="295.60" x2="285.00" y2="295.60" stroke="#999" stroke-width="1" />
<text x="279.50" y="297.90" font-size="6.5" text-anchor="end" font-weight="bold" fill="#000" stroke="#000" stroke-width="0.06" >0.8</text>
<line x1="283.00" y1="286.38" x2="285.00" y2="286.38" stroke="#999" stroke-width="1" />
<text x="279.50" y="288.68" font-size="6.5" text-anchor="end" font-weight="bold" fill="#000" stroke="#000" stroke-width="0.06" >1.0</text>
<line x1="283.00" y1="277.15" x2="285.00" y2="277.15" stroke="#999" stroke-width="1" />
<text x="279.50" y="279.45" font-size="6.5" text-anchor="end" font-weight="bold" fill="#000" stroke="#000" stroke-width="0.06" >1.2</text>
<line x1="283.00" y1="267.93" x2="285.00" y2="267.93" stroke="#999" stroke-width="1" />
<text x="279.50" y="270.23" font-size="6.5" text-anchor="end" font-weight="bold" fill="#000" stroke="#000" stroke-width="0.06" >1.4</text>
<line x1="283.00" y1="258.70" x2="285.00" y2="258.70" stroke="#999" stroke-width="1" />
<text x="279.50" y="261.00" font-size="6.5" text-anchor="end" font-weight="bold" fill="#000" stroke="#000" stroke-width="0.06" >1.6</text>
<line x1="285.00" y1="332.50" x2="285.00" y2="334.50" stroke="#999" stroke-width="1" />
<text x="285.00" y="342.80" font-size="6.5" text-anchor="middle" font-weight="bold" fill="#000" stroke="#000" stroke-width="0.06" >1</text>
<line x1="326.50" y1="332.50" x2="326.50" y2="334.50" stroke="#999" stroke-width="1" />
<text x="326.50" y="342.80" font-size="6.5" text-anchor="middle" font-weight="bold" fill="#000" stroke="#000" stroke-width="0.06" >2</text>
<line x1="368.00" y1="332.50" x2="368.00" y2="334.50" stroke="#999" stroke-width="1" />
<text x="368.00" y="342.80" font-size="6.5" text-anchor="middle" font-weight="bold" fill="#000" stroke="#000" stroke-width="0.06" >3</text>
<line x1="409.50" y1="332.50" x2="409.50" y2="334.50" stroke="#999" stroke-width="1" />
<text x="409.50" y="342.80" font-size="6.5" text-anchor="middle" font-weight="bold" fill="#000" stroke="#000" stroke-width="0.06" >4</text>
<line x1="451.00" y1="332.50" x2="451.00" y2="334.50" stroke="#999" stroke-width="1" />
<text x="451.00" y="342.80" font-size="6.5" text-anchor="middle" font-weight="bold" fill="#000" stroke="#000" stroke-width="0.06" >5</text>
<polyline points="285.00,311.28 326.50,314.97 368.00,316.82 409.50,322.35 451.00,327.89" fill="none" stroke="#a84a38" stroke-width="1.1" stroke-dasharray="2.5,1.3" stroke-linejoin="round"/>
<rect x="284.00" y="310.28" width="2" height="2" fill="#a84a38"/>
<rect x="325.50" y="313.97" width="2" height="2" fill="#a84a38"/>
<path d="M326.50,312.37V317.57M325.30,312.37H327.70M325.30,317.57H327.70" stroke="#a84a38" stroke-width="0.6" opacity="0.4" fill="none"/>
<rect x="367.00" y="315.82" width="2" height="2" fill="#a84a38"/>
<path d="M368.00,314.22V319.42M366.80,314.22H369.20M366.80,319.42H369.20" stroke="#a84a38" stroke-width="0.6" opacity="0.4" fill="none"/>
<rect x="408.50" y="321.35" width="2" height="2" fill="#a84a38"/>
<path d="M409.50,319.75V324.95M408.30,319.75H410.70M408.30,324.95H410.70" stroke="#a84a38" stroke-width="0.6" opacity="0.4" fill="none"/>
<rect x="450.00" y="326.89" width="2" height="2" fill="#a84a38"/>
<path d="M451.00,325.29V330.49M449.80,325.29H452.20M449.80,330.49H452.20" stroke="#a84a38" stroke-width="0.6" opacity="0.4" fill="none"/>
<polyline points="285.00,311.28 326.50,315.89 368.00,320.97 409.50,322.35 451.00,328.81" fill="none" stroke="#000000" stroke-width="1.1" stroke-dasharray="2.5,1.3" stroke-linejoin="round"/>
<rect x="284.00" y="310.28" width="2" height="2" fill="#000000"/>
<rect x="325.50" y="314.89" width="2" height="2" fill="#000000"/>
<path d="M326.50,313.29V318.50M325.30,313.29H327.70M325.30,318.50H327.70" stroke="#000000" stroke-width="0.6" opacity="0.4" fill="none"/>
<rect x="367.00" y="319.97" width="2" height="2" fill="#000000"/>
<path d="M368.00,318.37V323.57M366.80,318.37H369.20M366.80,323.57H369.20" stroke="#000000" stroke-width="0.6" opacity="0.4" fill="none"/>
<rect x="408.50" y="321.35" width="2" height="2" fill="#000000"/>
<path d="M409.50,319.75V324.95M408.30,319.75H410.70M408.30,324.95H410.70" stroke="#000000" stroke-width="0.6" opacity="0.4" fill="none"/>
<rect x="450.00" y="327.81" width="2" height="2" fill="#000000"/>
<path d="M451.00,326.21V331.41M449.80,326.21H452.20M449.80,331.41H452.20" stroke="#000000" stroke-width="0.6" opacity="0.4" fill="none"/>
<polyline points="285.00,311.28 326.50,316.36 368.00,320.51 409.50,322.35 451.00,327.89" fill="none" stroke="#cc5ad4" stroke-width="1.1" stroke-dasharray="2.5,1.3" stroke-linejoin="round"/>
<rect x="284.00" y="310.28" width="2" height="2" fill="#cc5ad4"/>
<rect x="325.50" y="315.36" width="2" height="2" fill="#cc5ad4"/>
<path d="M326.50,313.76V318.96M325.30,313.76H327.70M325.30,318.96H327.70" stroke="#cc5ad4" stroke-width="0.6" opacity="0.4" fill="none"/>
<rect x="367.00" y="319.51" width="2" height="2" fill="#cc5ad4"/>
<path d="M368.00,317.91V323.11M366.80,317.91H369.20M366.80,323.11H369.20" stroke="#cc5ad4" stroke-width="0.6" opacity="0.4" fill="none"/>
<rect x="408.50" y="321.35" width="2" height="2" fill="#cc5ad4"/>
<path d="M409.50,319.75V324.95M408.30,319.75H410.70M408.30,324.95H410.70" stroke="#cc5ad4" stroke-width="0.6" opacity="0.4" fill="none"/>
<rect x="450.00" y="326.89" width="2" height="2" fill="#cc5ad4"/>
<path d="M451.00,325.29V330.49M449.80,325.29H452.20M449.80,330.49H452.20" stroke="#cc5ad4" stroke-width="0.6" opacity="0.4" fill="none"/>
<polyline points="285.00,311.28 326.50,310.82 368.00,302.98 409.50,294.68 451.00,286.38" fill="none" stroke="#3434b8" stroke-width="1.3" stroke-dasharray="2.5,1.3" stroke-linejoin="round"/>
<rect x="284.00" y="310.28" width="2" height="2" fill="#3434b8"/>
<rect x="325.50" y="309.82" width="2" height="2" fill="#3434b8"/>
<path d="M326.50,308.22V313.42M325.30,308.22H327.70M325.30,313.42H327.70" stroke="#3434b8" stroke-width="0.6" opacity="0.4" fill="none"/>
<rect x="367.00" y="301.98" width="2" height="2" fill="#3434b8"/>
<path d="M368.00,300.38V305.58M366.80,300.38H369.20M366.80,305.58H369.20" stroke="#3434b8" stroke-width="0.6" opacity="0.4" fill="none"/>
<rect x="408.50" y="293.68" width="2" height="2" fill="#3434b8"/>
<path d="M409.50,292.08V297.28M408.30,292.08H410.70M408.30,297.28H410.70" stroke="#3434b8" stroke-width="0.6" opacity="0.4" fill="none"/>
<rect x="450.00" y="285.38" width="2" height="2" fill="#3434b8"/>
<path d="M451.00,283.77V288.98M449.80,283.77H452.20M449.80,288.98H452.20" stroke="#3434b8" stroke-width="0.6" opacity="0.4" fill="none"/>
<polyline points="285.00,310.36 326.50,305.75 368.00,299.01 409.50,289.42 451.00,267.46" fill="none" stroke="#3434b8" stroke-width="1.3"  stroke-linejoin="round"/>
<rect x="284.00" y="309.36" width="2" height="2" fill="#3434b8"/>
<rect x="325.50" y="304.75" width="2" height="2" fill="#3434b8"/>
<path d="M326.50,303.15V308.35M325.30,303.15H327.70M325.30,308.35H327.70" stroke="#3434b8" stroke-width="0.6" opacity="0.4" fill="none"/>
<rect x="367.00" y="298.01" width="2" height="2" fill="#3434b8"/>
<path d="M368.00,296.41V301.61M366.80,296.41H369.20M366.80,301.61H369.20" stroke="#3434b8" stroke-width="0.6" opacity="0.4" fill="none"/>
<rect x="408.50" y="288.42" width="2" height="2" fill="#3434b8"/>
<path d="M409.50,286.82V292.02M408.30,286.82H410.70M408.30,292.02H410.70" stroke="#3434b8" stroke-width="0.6" opacity="0.4" fill="none"/>
<rect x="450.00" y="266.46" width="2" height="2" fill="#3434b8"/>
<path d="M451.00,264.86V270.06M449.80,264.86H452.20M449.80,270.06H452.20" stroke="#3434b8" stroke-width="0.6" opacity="0.4" fill="none"/>
<text transform="translate(255.3,295.6) rotate(-90)" font-size="9" text-anchor="middle" stroke="#000" stroke-width="0.12">Cell number (10<tspan font-size="5.5" dy="-3">6</tspan><tspan dy="3">/mL)</tspan></text>
<text x="365.40" y="354.20" font-size="9.3" text-anchor="middle" font-weight="normal" fill="#000" stroke="#000" stroke-width="0.16" >Day</text>
<line x1="48.25" y1="363.75" x2="48.25" y2="437.50" stroke="#999" stroke-width="1" />
<line x1="48.25" y1="437.50" x2="213.50" y2="437.50" stroke="#999" stroke-width="1" />
<line x1="46.25" y1="437.50" x2="48.25" y2="437.50" stroke="#999" stroke-width="1" />
<text x="43.80" y="439.80" font-size="6.5" text-anchor="end" font-weight="bold" fill="#000" stroke="#000" stroke-width="0.06" >0.0</text>
<line x1="46.25" y1="422.75" x2="48.25" y2="422.75" stroke="#999" stroke-width="1" />
<text x="43.80" y="425.05" font-size="6.5" text-anchor="end" font-weight="bold" fill="#000" stroke="#000" stroke-width="0.06" >0.2</text>
<line x1="46.25" y1="408.00" x2="48.25" y2="408.00" stroke="#999" stroke-width="1" />
<text x="43.80" y="410.30" font-size="6.5" text-anchor="end" font-weight="bold" fill="#000" stroke="#000" stroke-width="0.06" >0.4</text>
<line x1="46.25" y1="393.25" x2="48.25" y2="393.25" stroke="#999" stroke-width="1" />
<text x="43.80" y="395.55" font-size="6.5" text-anchor="end" font-weight="bold" fill="#000" stroke="#000" stroke-width="0.06" >0.6</text>
<line x1="46.25" y1="378.50" x2="48.25" y2="378.50" stroke="#999" stroke-width="1" />
<text x="43.80" y="380.80" font-size="6.5" text-anchor="end" font-weight="bold" fill="#000" stroke="#000" stroke-width="0.06" >0.8</text>
<line x1="46.25" y1="363.75" x2="48.25" y2="363.75" stroke="#999" stroke-width="1" />
<text x="43.80" y="366.05" font-size="6.5" text-anchor="end" font-weight="bold" fill="#000" stroke="#000" stroke-width="0.06" >1.0</text>
<line x1="48.25" y1="437.50" x2="48.25" y2="439.50" stroke="#999" stroke-width="1" />
<text x="48.25" y="447.80" font-size="6.5" text-anchor="middle" font-weight="bold" fill="#000" stroke="#000" stroke-width="0.06" >1</text>
<line x1="89.55" y1="437.50" x2="89.55" y2="439.50" stroke="#999" stroke-width="1" />
<text x="89.55" y="447.80" font-size="6.5" text-anchor="middle" font-weight="bold" fill="#000" stroke="#000" stroke-width="0.06" >2</text>
<line x1="130.85" y1="437.50" x2="130.85" y2="439.50" stroke="#999" stroke-width="1" />
<text x="130.85" y="447.80" font-size="6.5" text-anchor="middle" font-weight="bold" fill="#000" stroke="#000" stroke-width="0.06" >3</text>
<line x1="172.15" y1="437.50" x2="172.15" y2="439.50" stroke="#999" stroke-width="1" />
<text x="172.15" y="447.80" font-size="6.5" text-anchor="middle" font-weight="bold" fill="#000" stroke="#000" stroke-width="0.06" >4</text>
<line x1="213.45" y1="437.50" x2="213.45" y2="439.50" stroke="#999" stroke-width="1" />
<text x="213.45" y="447.80" font-size="6.5" text-anchor="middle" font-weight="bold" fill="#000" stroke="#000" stroke-width="0.06" >5</text>
<polyline points="48.25,371.12 89.55,382.19 130.85,407.26 172.15,419.06 213.45,433.81" fill="none" stroke="#a84a38" stroke-width="1.1" stroke-dasharray="2.5,1.3" stroke-linejoin="round"/>
<rect x="47.25" y="370.12" width="2" height="2" fill="#a84a38"/>
<rect x="88.55" y="381.19" width="2" height="2" fill="#a84a38"/>
<path d="M89.55,379.59V384.79M88.35,379.59H90.75M88.35,384.79H90.75" stroke="#a84a38" stroke-width="0.6" opacity="0.4" fill="none"/>
<rect x="129.85" y="406.26" width="2" height="2" fill="#a84a38"/>
<path d="M130.85,404.66V409.86M129.65,404.66H132.05M129.65,409.86H132.05" stroke="#a84a38" stroke-width="0.6" opacity="0.4" fill="none"/>
<rect x="171.15" y="418.06" width="2" height="2" fill="#a84a38"/>
<path d="M172.15,416.46V421.66M170.95,416.46H173.35M170.95,421.66H173.35" stroke="#a84a38" stroke-width="0.6" opacity="0.4" fill="none"/>
<rect x="212.45" y="432.81" width="2" height="2" fill="#a84a38"/>
<path d="M213.45,431.21V436.41M212.25,431.21H214.65M212.25,436.41H214.65" stroke="#a84a38" stroke-width="0.6" opacity="0.4" fill="none"/>
<polyline points="48.25,371.12 89.55,382.19 130.85,399.89 172.15,419.06 213.45,433.07" fill="none" stroke="#000000" stroke-width="1.1" stroke-dasharray="2.5,1.3" stroke-linejoin="round"/>
<rect x="47.25" y="370.12" width="2" height="2" fill="#000000"/>
<rect x="88.55" y="381.19" width="2" height="2" fill="#000000"/>
<path d="M89.55,379.59V384.79M88.35,379.59H90.75M88.35,384.79H90.75" stroke="#000000" stroke-width="0.6" opacity="0.4" fill="none"/>
<rect x="129.85" y="398.89" width="2" height="2" fill="#000000"/>
<path d="M130.85,397.29V402.49M129.65,397.29H132.05M129.65,402.49H132.05" stroke="#000000" stroke-width="0.6" opacity="0.4" fill="none"/>
<rect x="171.15" y="418.06" width="2" height="2" fill="#000000"/>
<path d="M172.15,416.46V421.66M170.95,416.46H173.35M170.95,421.66H173.35" stroke="#000000" stroke-width="0.6" opacity="0.4" fill="none"/>
<rect x="212.45" y="432.07" width="2" height="2" fill="#000000"/>
<path d="M213.45,430.47V435.68M212.25,430.47H214.65M212.25,435.68H214.65" stroke="#000000" stroke-width="0.6" opacity="0.4" fill="none"/>
<polyline points="48.25,371.12 89.55,383.66 130.85,393.99 172.15,416.11 213.45,432.34" fill="none" stroke="#cc5ad4" stroke-width="1.1" stroke-dasharray="2.5,1.3" stroke-linejoin="round"/>
<rect x="47.25" y="370.12" width="2" height="2" fill="#cc5ad4"/>
<rect x="88.55" y="382.66" width="2" height="2" fill="#cc5ad4"/>
<path d="M89.55,381.06V386.26M88.35,381.06H90.75M88.35,386.26H90.75" stroke="#cc5ad4" stroke-width="0.6" opacity="0.4" fill="none"/>
<rect x="129.85" y="392.99" width="2" height="2" fill="#cc5ad4"/>
<path d="M130.85,391.39V396.59M129.65,391.39H132.05M129.65,396.59H132.05" stroke="#cc5ad4" stroke-width="0.6" opacity="0.4" fill="none"/>
<rect x="171.15" y="415.11" width="2" height="2" fill="#cc5ad4"/>
<path d="M172.15,413.51V418.71M170.95,413.51H173.35M170.95,418.71H173.35" stroke="#cc5ad4" stroke-width="0.6" opacity="0.4" fill="none"/>
<rect x="212.45" y="431.34" width="2" height="2" fill="#cc5ad4"/>
<path d="M213.45,429.74V434.94M212.25,429.74H214.65M212.25,434.94H214.65" stroke="#cc5ad4" stroke-width="0.6" opacity="0.4" fill="none"/>
<polyline points="48.25,369.65 89.55,370.39 130.85,371.86 172.15,372.60 213.45,373.34" fill="none" stroke="#3434b8" stroke-width="1.3" stroke-dasharray="2.5,1.3" stroke-linejoin="round"/>
<rect x="47.25" y="368.65" width="2" height="2" fill="#3434b8"/>
<rect x="88.55" y="369.39" width="2" height="2" fill="#3434b8"/>
<path d="M89.55,367.79V372.99M88.35,367.79H90.75M88.35,372.99H90.75" stroke="#3434b8" stroke-width="0.6" opacity="0.4" fill="none"/>
<rect x="129.85" y="370.86" width="2" height="2" fill="#3434b8"/>
<path d="M130.85,369.26V374.46M129.65,369.26H132.05M129.65,374.46H132.05" stroke="#3434b8" stroke-width="0.6" opacity="0.4" fill="none"/>
<rect x="171.15" y="371.60" width="2" height="2" fill="#3434b8"/>
<path d="M172.15,370.00V375.20M170.95,370.00H173.35M170.95,375.20H173.35" stroke="#3434b8" stroke-width="0.6" opacity="0.4" fill="none"/>
<rect x="212.45" y="372.34" width="2" height="2" fill="#3434b8"/>
<path d="M213.45,370.74V375.94M212.25,370.74H214.65M212.25,375.94H214.65" stroke="#3434b8" stroke-width="0.6" opacity="0.4" fill="none"/>
<polyline points="48.25,371.12 89.55,371.86 130.85,372.60 172.15,372.97 213.45,373.71" fill="none" stroke="#3434b8" stroke-width="1.3"  stroke-linejoin="round"/>
<rect x="47.25" y="370.12" width="2" height="2" fill="#3434b8"/>
<rect x="88.55" y="370.86" width="2" height="2" fill="#3434b8"/>
<path d="M89.55,369.26V374.46M88.35,369.26H90.75M88.35,374.46H90.75" stroke="#3434b8" stroke-width="0.6" opacity="0.4" fill="none"/>
<rect x="129.85" y="371.60" width="2" height="2" fill="#3434b8"/>
<path d="M130.85,370.00V375.20M129.65,370.00H132.05M129.65,375.20H132.05" stroke="#3434b8" stroke-width="0.6" opacity="0.4" fill="none"/>
<rect x="171.15" y="371.97" width="2" height="2" fill="#3434b8"/>
<path d="M172.15,370.37V375.57M170.95,370.37H173.35M170.95,375.57H173.35" stroke="#3434b8" stroke-width="0.6" opacity="0.4" fill="none"/>
<rect x="212.45" y="372.71" width="2" height="2" fill="#3434b8"/>
<path d="M213.45,371.11V376.31M212.25,371.11H214.65M212.25,376.31H214.65" stroke="#3434b8" stroke-width="0.6" opacity="0.4" fill="none"/>
<text transform="translate(25,399.6) rotate(-90)" font-size="9" text-anchor="middle" stroke="#000" stroke-width="0.12">Viability</text>
<text x="128.20" y="459.80" font-size="9.3" text-anchor="middle" font-weight="normal" fill="#000" stroke="#000" stroke-width="0.16" >Day</text>
<line x1="285.00" y1="363.25" x2="285.00" y2="437.50" stroke="#999" stroke-width="1" />
<line x1="285.00" y1="437.50" x2="451.00" y2="437.50" stroke="#999" stroke-width="1" />
<line x1="283.00" y1="437.50" x2="285.00" y2="437.50" stroke="#999" stroke-width="1" />
<text x="279.50" y="439.80" font-size="6.5" text-anchor="end" font-weight="bold" fill="#000" stroke="#000" stroke-width="0.06" >0.0</text>
<line x1="283.00" y1="422.65" x2="285.00" y2="422.65" stroke="#999" stroke-width="1" />
<text x="279.50" y="424.95" font-size="6.5" text-anchor="end" font-weight="bold" fill="#000" stroke="#000" stroke-width="0.06" >0.2</text>
<line x1="283.00" y1="407.80" x2="285.00" y2="407.80" stroke="#999" stroke-width="1" />
<text x="279.50" y="410.10" font-size="6.5" text-anchor="end" font-weight="bold" fill="#000" stroke="#000" stroke-width="0.06" >0.4</text>
<line x1="283.00" y1="392.95" x2="285.00" y2="392.95" stroke="#999" stroke-width="1" />
<text x="279.50" y="395.25" font-size="6.5" text-anchor="end" font-weight="bold" fill="#000" stroke="#000" stroke-width="0.06" >0.6</text>
<line x1="283.00" y1="378.10" x2="285.00" y2="378.10" stroke="#999" stroke-width="1" />
<text x="279.50" y="380.40" font-size="6.5" text-anchor="end" font-weight="bold" fill="#000" stroke="#000" stroke-width="0.06" >0.8</text>
<line x1="283.00" y1="363.25" x2="285.00" y2="363.25" stroke="#999" stroke-width="1" />
<text x="279.50" y="365.55" font-size="6.5" text-anchor="end" font-weight="bold" fill="#000" stroke="#000" stroke-width="0.06" >1.0</text>
<line x1="285.00" y1="437.50" x2="285.00" y2="439.50" stroke="#999" stroke-width="1" />
<text x="285.00" y="447.80" font-size="6.5" text-anchor="middle" font-weight="bold" fill="#000" stroke="#000" stroke-width="0.06" >1</text>
<line x1="326.50" y1="437.50" x2="326.50" y2="439.50" stroke="#999" stroke-width="1" />
<text x="326.50" y="447.80" font-size="6.5" text-anchor="middle" font-weight="bold" fill="#000" stroke="#000" stroke-width="0.06" >2</text>
<line x1="368.00" y1="437.50" x2="368.00" y2="439.50" stroke="#999" stroke-width="1" />
<text x="368.00" y="447.80" font-size="6.5" text-anchor="middle" font-weight="bold" fill="#000" stroke="#000" stroke-width="0.06" >3</text>
<line x1="409.50" y1="437.50" x2="409.50" y2="439.50" stroke="#999" stroke-width="1" />
<text x="409.50" y="447.80" font-size="6.5" text-anchor="middle" font-weight="bold" fill="#000" stroke="#000" stroke-width="0.06" >4</text>
<line x1="451.00" y1="437.50" x2="451.00" y2="439.50" stroke="#999" stroke-width="1" />
<text x="451.00" y="447.80" font-size="6.5" text-anchor="middle" font-weight="bold" fill="#000" stroke="#000" stroke-width="0.06" >5</text>
<polyline points="285.00,369.19 326.50,383.30 368.00,390.72 409.50,404.09 451.00,421.91" fill="none" stroke="#a84a38" stroke-width="1.1" stroke-dasharray="2.5,1.3" stroke-linejoin="round"/>
<rect x="284.00" y="368.19" width="2" height="2" fill="#a84a38"/>
<rect x="325.50" y="382.30" width="2" height="2" fill="#a84a38"/>
<path d="M326.50,380.70V385.90M325.30,380.70H327.70M325.30,385.90H327.70" stroke="#a84a38" stroke-width="0.6" opacity="0.4" fill="none"/>
<rect x="367.00" y="389.72" width="2" height="2" fill="#a84a38"/>
<path d="M368.00,388.12V393.32M366.80,388.12H369.20M366.80,393.32H369.20" stroke="#a84a38" stroke-width="0.6" opacity="0.4" fill="none"/>
<rect x="408.50" y="403.09" width="2" height="2" fill="#a84a38"/>
<path d="M409.50,401.49V406.69M408.30,401.49H410.70M408.30,406.69H410.70" stroke="#a84a38" stroke-width="0.6" opacity="0.4" fill="none"/>
<rect x="450.00" y="420.91" width="2" height="2" fill="#a84a38"/>
<path d="M451.00,419.31V424.51M449.80,419.31H452.20M449.80,424.51H452.20" stroke="#a84a38" stroke-width="0.6" opacity="0.4" fill="none"/>
<polyline points="285.00,369.19 326.50,385.52 368.00,398.15 409.50,406.31 451.00,424.13" fill="none" stroke="#000000" stroke-width="1.1" stroke-dasharray="2.5,1.3" stroke-linejoin="round"/>
<rect x="284.00" y="368.19" width="2" height="2" fill="#000000"/>
<rect x="325.50" y="384.52" width="2" height="2" fill="#000000"/>
<path d="M326.50,382.92V388.12M325.30,382.92H327.70M325.30,388.12H327.70" stroke="#000000" stroke-width="0.6" opacity="0.4" fill="none"/>
<rect x="367.00" y="397.15" width="2" height="2" fill="#000000"/>
<path d="M368.00,395.55V400.75M366.80,395.55H369.20M366.80,400.75H369.20" stroke="#000000" stroke-width="0.6" opacity="0.4" fill="none"/>
<rect x="408.50" y="405.31" width="2" height="2" fill="#000000"/>
<path d="M409.50,403.71V408.92M408.30,403.71H410.70M408.30,408.92H410.70" stroke="#000000" stroke-width="0.6" opacity="0.4" fill="none"/>
<rect x="450.00" y="423.13" width="2" height="2" fill="#000000"/>
<path d="M451.00,421.53V426.74M449.80,421.53H452.20M449.80,426.74H452.20" stroke="#000000" stroke-width="0.6" opacity="0.4" fill="none"/>
<polyline points="285.00,369.19 326.50,384.78 368.00,397.40 409.50,404.09 451.00,418.94" fill="none" stroke="#cc5ad4" stroke-width="1.1" stroke-dasharray="2.5,1.3" stroke-linejoin="round"/>
<rect x="284.00" y="368.19" width="2" height="2" fill="#cc5ad4"/>
<rect x="325.50" y="383.78" width="2" height="2" fill="#cc5ad4"/>
<path d="M326.50,382.18V387.38M325.30,382.18H327.70M325.30,387.38H327.70" stroke="#cc5ad4" stroke-width="0.6" opacity="0.4" fill="none"/>
<rect x="367.00" y="396.40" width="2" height="2" fill="#cc5ad4"/>
<path d="M368.00,394.80V400.00M366.80,394.80H369.20M366.80,400.00H369.20" stroke="#cc5ad4" stroke-width="0.6" opacity="0.4" fill="none"/>
<rect x="408.50" y="403.09" width="2" height="2" fill="#cc5ad4"/>
<path d="M409.50,401.49V406.69M408.30,401.49H410.70M408.30,406.69H410.70" stroke="#cc5ad4" stroke-width="0.6" opacity="0.4" fill="none"/>
<rect x="450.00" y="417.94" width="2" height="2" fill="#cc5ad4"/>
<path d="M451.00,416.34V421.54M449.80,416.34H452.20M449.80,421.54H452.20" stroke="#cc5ad4" stroke-width="0.6" opacity="0.4" fill="none"/>
<polyline points="285.00,369.19 326.50,369.93 368.00,370.68 409.50,371.42 451.00,372.16" fill="none" stroke="#3434b8" stroke-width="1.3" stroke-dasharray="2.5,1.3" stroke-linejoin="round"/>
<rect x="284.00" y="368.19" width="2" height="2" fill="#3434b8"/>
<rect x="325.50" y="368.93" width="2" height="2" fill="#3434b8"/>
<path d="M326.50,367.33V372.53M325.30,367.33H327.70M325.30,372.53H327.70" stroke="#3434b8" stroke-width="0.6" opacity="0.4" fill="none"/>
<rect x="367.00" y="369.68" width="2" height="2" fill="#3434b8"/>
<path d="M368.00,368.07V373.28M366.80,368.07H369.20M366.80,373.28H369.20" stroke="#3434b8" stroke-width="0.6" opacity="0.4" fill="none"/>
<rect x="408.50" y="370.42" width="2" height="2" fill="#3434b8"/>
<path d="M409.50,368.82V374.02M408.30,368.82H410.70M408.30,374.02H410.70" stroke="#3434b8" stroke-width="0.6" opacity="0.4" fill="none"/>
<rect x="450.00" y="371.16" width="2" height="2" fill="#3434b8"/>
<path d="M451.00,369.56V374.76M449.80,369.56H452.20M449.80,374.76H452.20" stroke="#3434b8" stroke-width="0.6" opacity="0.4" fill="none"/>
<polyline points="285.00,369.19 326.50,370.30 368.00,371.05 409.50,371.42 451.00,371.42" fill="none" stroke="#3434b8" stroke-width="1.3"  stroke-linejoin="round"/>
<rect x="284.00" y="368.19" width="2" height="2" fill="#3434b8"/>
<rect x="325.50" y="369.30" width="2" height="2" fill="#3434b8"/>
<path d="M326.50,367.70V372.90M325.30,367.70H327.70M325.30,372.90H327.70" stroke="#3434b8" stroke-width="0.6" opacity="0.4" fill="none"/>
<rect x="367.00" y="370.05" width="2" height="2" fill="#3434b8"/>
<path d="M368.00,368.45V373.65M366.80,368.45H369.20M366.80,373.65H369.20" stroke="#3434b8" stroke-width="0.6" opacity="0.4" fill="none"/>
<rect x="408.50" y="370.42" width="2" height="2" fill="#3434b8"/>
<path d="M409.50,368.82V374.02M408.30,368.82H410.70M408.30,374.02H410.70" stroke="#3434b8" stroke-width="0.6" opacity="0.4" fill="none"/>
<rect x="450.00" y="370.42" width="2" height="2" fill="#3434b8"/>
<path d="M451.00,368.82V374.02M449.80,368.82H452.20M449.80,374.02H452.20" stroke="#3434b8" stroke-width="0.6" opacity="0.4" fill="none"/>
<text transform="translate(255.3,400) rotate(-90)" font-size="9" text-anchor="middle" stroke="#000" stroke-width="0.12">Viability</text>
<text x="365.40" y="459.80" font-size="9.3" text-anchor="middle" font-weight="normal" fill="#000" stroke="#000" stroke-width="0.16" >Day</text>
<line x1="51.20" y1="405.40" x2="59.60" y2="405.40" stroke="#3434b8" stroke-width="1.2" />
<text x="60.40" y="407.65" font-size="6.4" text-anchor="start" font-weight="normal" fill="#000" stroke="#000" stroke-width="0.16" letter-spacing="-0.12">CD138+</text>
<line x1="51.20" y1="412.40" x2="59.60" y2="412.40" stroke="#3434b8" stroke-width="1.2" stroke-dasharray="2.5,1.3"/>
<text x="60.40" y="414.65" font-size="6.4" text-anchor="start" font-weight="normal" fill="#000" stroke="#000" stroke-width="0.16" letter-spacing="-0.12">CD138-</text>
<line x1="51.20" y1="419.40" x2="59.60" y2="419.40" stroke="#a84a38" stroke-width="1.2" stroke-dasharray="2.5,1.3"/>
<text x="60.40" y="421.65" font-size="6.4" text-anchor="start" font-weight="normal" fill="#000" stroke="#000" stroke-width="0.16" letter-spacing="-0.12">CD138- &amp; ATRA</text>
<line x1="51.20" y1="426.40" x2="59.60" y2="426.40" stroke="#000000" stroke-width="1.2" stroke-dasharray="2.5,1.3"/>
<text x="60.40" y="428.65" font-size="6.4" text-anchor="start" font-weight="normal" fill="#000" stroke="#000" stroke-width="0.16" letter-spacing="-0.12">CD138- &amp; CAY10404</text>
<line x1="51.20" y1="433.40" x2="59.60" y2="433.40" stroke="#cc5ad4" stroke-width="1.2" stroke-dasharray="2.5,1.3"/>
<text x="60.40" y="435.65" font-size="6.4" text-anchor="start" font-weight="normal" fill="#000" stroke="#000" stroke-width="0.16" letter-spacing="-0.12">CD138- &amp; Cyclopamine</text>
<line x1="288.20" y1="402.00" x2="297.00" y2="402.00" stroke="#3434b8" stroke-width="1.2" />
<text x="297.50" y="404.25" font-size="6.4" text-anchor="start" font-weight="normal" fill="#000" stroke="#000" stroke-width="0.16" letter-spacing="-0.12">CD138+</text>
<line x1="288.20" y1="409.75" x2="297.00" y2="409.75" stroke="#3434b8" stroke-width="1.2" stroke-dasharray="2.5,1.3"/>
<text x="297.50" y="412.00" font-size="6.4" text-anchor="start" font-weight="normal" fill="#000" stroke="#000" stroke-width="0.16" letter-spacing="-0.12">CD138-</text>
<line x1="288.20" y1="417.50" x2="297.00" y2="417.50" stroke="#a84a38" stroke-width="1.2" stroke-dasharray="2.5,1.3"/>
<text x="297.50" y="419.75" font-size="6.4" text-anchor="start" font-weight="normal" fill="#000" stroke="#000" stroke-width="0.16" letter-spacing="-0.12">CD138- &amp; ATRA</text>
<line x1="288.20" y1="425.25" x2="297.00" y2="425.25" stroke="#000000" stroke-width="1.2" stroke-dasharray="2.5,1.3"/>
<text x="297.50" y="427.50" font-size="6.4" text-anchor="start" font-weight="normal" fill="#000" stroke="#000" stroke-width="0.16" letter-spacing="-0.12">CD138- &amp; CAY10404</text>
<line x1="288.20" y1="433.00" x2="297.00" y2="433.00" stroke="#cc5ad4" stroke-width="1.2" stroke-dasharray="2.5,1.3"/>
<text x="297.50" y="435.25" font-size="6.4" text-anchor="start" font-weight="normal" fill="#000" stroke="#000" stroke-width="0.16" letter-spacing="-0.12">CD138- &amp; Cyclopamine</text>
<text x="1.25" y="480.50" font-size="12.5" text-anchor="start" font-weight="bold" fill="#000" stroke="#000" stroke-width="0.06" >D</text>
<line x1="37.80" y1="483.50" x2="37.80" y2="587.80" stroke="#999" stroke-width="1" />
<line x1="37.80" y1="587.80" x2="245.00" y2="587.80" stroke="#999" stroke-width="1" />
<line x1="35.30" y1="587.80" x2="37.80" y2="587.80" stroke="#999" stroke-width="1" />
<text x="30.00" y="591.20" font-size="9.5" text-anchor="end" font-weight="normal" fill="#000" stroke="#000" stroke-width="0.16" >0.0</text>
<line x1="35.30" y1="566.94" x2="37.80" y2="566.94" stroke="#999" stroke-width="1" />
<text x="30.00" y="570.34" font-size="9.5" text-anchor="end" font-weight="normal" fill="#000" stroke="#000" stroke-width="0.16" >0.2</text>
<line x1="35.30" y1="546.08" x2="37.80" y2="546.08" stroke="#999" stroke-width="1" />
<text x="30.00" y="549.48" font-size="9.5" text-anchor="end" font-weight="normal" fill="#000" stroke="#000" stroke-width="0.16" >0.4</text>
<line x1="35.30" y1="525.22" x2="37.80" y2="525.22" stroke="#999" stroke-width="1" />
<text x="30.00" y="528.62" font-size="9.5" text-anchor="end" font-weight="normal" fill="#000" stroke="#000" stroke-width="0.16" >0.6</text>
<line x1="35.30" y1="504.36" x2="37.80" y2="504.36" stroke="#999" stroke-width="1" />
<text x="30.00" y="507.76" font-size="9.5" text-anchor="end" font-weight="normal" fill="#000" stroke="#000" stroke-width="0.16" >0.8</text>
<line x1="35.30" y1="483.50" x2="37.80" y2="483.50" stroke="#999" stroke-width="1" />
<text x="30.00" y="486.90" font-size="9.5" text-anchor="end" font-weight="normal" fill="#000" stroke="#000" stroke-width="0.16" >1.0</text>
<line x1="37.80" y1="587.80" x2="37.80" y2="590.30" stroke="#999" stroke-width="1" />
<text x="37.80" y="602.00" font-size="9.5" text-anchor="middle" font-weight="normal" fill="#000" stroke="#000" stroke-width="0.16" >0</text>
<line x1="65.15" y1="587.80" x2="65.15" y2="590.30" stroke="#999" stroke-width="1" />
<text x="65.15" y="602.00" font-size="9.5" text-anchor="middle" font-weight="normal" fill="#000" stroke="#000" stroke-width="0.16" >10</text>
<line x1="92.50" y1="587.80" x2="92.50" y2="590.30" stroke="#999" stroke-width="1" />
<text x="92.50" y="602.00" font-size="9.5" text-anchor="middle" font-weight="normal" fill="#000" stroke="#000" stroke-width="0.16" >20</text>
<line x1="119.85" y1="587.80" x2="119.85" y2="590.30" stroke="#999" stroke-width="1" />
<text x="119.85" y="602.00" font-size="9.5" text-anchor="middle" font-weight="normal" fill="#000" stroke="#000" stroke-width="0.16" >30</text>
<line x1="147.20" y1="587.80" x2="147.20" y2="590.30" stroke="#999" stroke-width="1" />
<text x="147.20" y="602.00" font-size="9.5" text-anchor="middle" font-weight="normal" fill="#000" stroke="#000" stroke-width="0.16" >40</text>
<line x1="174.55" y1="587.80" x2="174.55" y2="590.30" stroke="#999" stroke-width="1" />
<text x="174.55" y="602.00" font-size="9.5" text-anchor="middle" font-weight="normal" fill="#000" stroke="#000" stroke-width="0.16" >50</text>
<line x1="201.90" y1="587.80" x2="201.90" y2="590.30" stroke="#999" stroke-width="1" />
<text x="201.90" y="602.00" font-size="9.5" text-anchor="middle" font-weight="normal" fill="#000" stroke="#000" stroke-width="0.16" >60</text>
<line x1="229.25" y1="587.80" x2="229.25" y2="590.30" stroke="#999" stroke-width="1" />
<text x="229.25" y="602.00" font-size="9.5" text-anchor="middle" font-weight="normal" fill="#000" stroke="#000" stroke-width="0.16" >70</text>
<text transform="translate(9.6,534.2) rotate(-90)" font-size="8.6" text-anchor="middle" stroke="#000" stroke-width="0.12">% Survial</text>
<text x="129.30" y="612.50" font-size="9.1" text-anchor="middle" font-weight="normal" fill="#000" stroke="#000" stroke-width="0.16" >Days after tumor inoculation</text>
<polyline points="37.80,483.50 95.23,483.50 95.23,504.36 97.97,504.36 97.97,525.22 100.70,525.22 100.70,546.08 122.58,546.08 122.58,566.94 163.61,566.94 163.61,588.40" fill="none" stroke="#c01818" stroke-width="1.6" />
<polyline points="37.80,483.50 106.17,483.50 106.17,504.36 125.32,504.36 125.32,525.22 166.34,525.22 166.34,546.08 169.08,546.08 169.08,566.94 174.55,566.94 174.55,588.40" fill="none" stroke="#1010d0" stroke-width="1.6" />
<polyline points="37.80,483.50 100.70,483.50 100.70,504.36 122.58,504.36 122.58,525.22 171.81,525.22 171.81,546.08 201.90,546.08 201.90,566.94 223.78,566.94 223.78,588.40" fill="none" stroke="#000" stroke-width="1.6" />
<polyline points="37.80,483.50 108.91,483.50 108.91,504.36 128.06,504.36 128.06,525.22 185.49,525.22 185.49,546.08 190.96,546.08 190.96,566.94 210.10,566.94 210.10,588.40" fill="none" stroke="#c030e8" stroke-width="1.6" />
<polyline points="37.80,483.50 158.14,483.50 158.14,504.36 177.28,504.36 177.28,525.22 193.69,525.22 193.69,546.08 204.63,546.08 204.63,566.94 234.72,566.94 234.72,588.40" fill="none" stroke="#6040a8" stroke-width="1.6" />
<line x1="210.10" y1="587.40" x2="234.72" y2="587.40" stroke="#c030e8" stroke-width="1.6" />
<line x1="163.61" y1="587.40" x2="210.10" y2="587.40" stroke="#c01818" stroke-width="1.6" />
<line x1="45.60" y1="552.00" x2="68.70" y2="552.00" stroke="#1010d0" stroke-width="1.8" />
<text x="71.00" y="554.50" font-size="7" text-anchor="start" font-weight="normal" fill="#000" stroke="#000" stroke-width="0.16" >CD138+</text>
<line x1="45.60" y1="559.20" x2="68.70" y2="559.20" stroke="#c01818" stroke-width="1.8" />
<text x="71.00" y="561.70" font-size="7" text-anchor="start" font-weight="normal" fill="#000" stroke="#000" stroke-width="0.16" >CD138-</text>
<line x1="45.60" y1="566.40" x2="68.70" y2="566.40" stroke="#000" stroke-width="1.8" />
<text x="71.00" y="568.90" font-size="7" text-anchor="start" font-weight="normal" fill="#000" stroke="#000" stroke-width="0.16" >CAY10404</text>
<line x1="45.60" y1="573.60" x2="68.70" y2="573.60" stroke="#c030e8" stroke-width="1.8" />
<text x="71.00" y="576.10" font-size="7" text-anchor="start" font-weight="normal" fill="#000" stroke="#000" stroke-width="0.16" >Cyclopamine</text>
<line x1="45.60" y1="580.80" x2="68.70" y2="580.80" stroke="#6040a8" stroke-width="1.8" />
<text x="71.00" y="583.30" font-size="7" text-anchor="start" font-weight="normal" fill="#000" stroke="#000" stroke-width="0.16" >Itraconazole</text>
<text x="252.00" y="481.25" font-size="12.5" text-anchor="start" font-weight="bold" fill="#000" stroke="#000" stroke-width="0.06" >E</text>
<line x1="303.75" y1="482.00" x2="303.75" y2="585.50" stroke="#999" stroke-width="1" />
<line x1="303.75" y1="585.50" x2="500.60" y2="585.50" stroke="#999" stroke-width="1" />
<line x1="301.25" y1="585.50" x2="303.75" y2="585.50" stroke="#999" stroke-width="1" />
<text x="293.80" y="588.70" font-size="9" text-anchor="end" font-weight="normal" fill="#000" stroke="#000" stroke-width="0.16" >0.0</text>
<line x1="301.25" y1="564.80" x2="303.75" y2="564.80" stroke="#999" stroke-width="1" />
<text x="293.80" y="568.00" font-size="9" text-anchor="end" font-weight="normal" fill="#000" stroke="#000" stroke-width="0.16" >2.0</text>
<line x1="301.25" y1="544.10" x2="303.75" y2="544.10" stroke="#999" stroke-width="1" />
<text x="293.80" y="547.30" font-size="9" text-anchor="end" font-weight="normal" fill="#000" stroke="#000" stroke-width="0.16" >4.0</text>
<line x1="301.25" y1="523.40" x2="303.75" y2="523.40" stroke="#999" stroke-width="1" />
<text x="293.80" y="526.60" font-size="9" text-anchor="end" font-weight="normal" fill="#000" stroke="#000" stroke-width="0.16" >6.0</text>
<line x1="301.25" y1="502.70" x2="303.75" y2="502.70" stroke="#999" stroke-width="1" />
<text x="293.80" y="505.90" font-size="9" text-anchor="end" font-weight="normal" fill="#000" stroke="#000" stroke-width="0.16" >8.0</text>
<line x1="301.25" y1="482.00" x2="303.75" y2="482.00" stroke="#999" stroke-width="1" />
<text x="293.80" y="485.20" font-size="9" text-anchor="end" font-weight="normal" fill="#000" stroke="#000" stroke-width="0.16" >10.0</text>
<line x1="303.75" y1="585.50" x2="303.75" y2="588.00" stroke="#999" stroke-width="1" />
<text x="303.75" y="599.60" font-size="8.7" text-anchor="middle" font-weight="normal" fill="#000" stroke="#000" stroke-width="0.16" >1</text>
<line x1="328.35" y1="585.50" x2="328.35" y2="588.00" stroke="#999" stroke-width="1" />
<text x="328.35" y="599.60" font-size="8.7" text-anchor="middle" font-weight="normal" fill="#000" stroke="#000" stroke-width="0.16" >8</text>
<line x1="352.95" y1="585.50" x2="352.95" y2="588.00" stroke="#999" stroke-width="1" />
<text x="352.95" y="599.60" font-size="8.7" text-anchor="middle" font-weight="normal" fill="#000" stroke="#000" stroke-width="0.16" >14</text>
<line x1="377.55" y1="585.50" x2="377.55" y2="588.00" stroke="#999" stroke-width="1" />
<text x="377.55" y="599.60" font-size="8.7" text-anchor="middle" font-weight="normal" fill="#000" stroke="#000" stroke-width="0.16" >21</text>
<line x1="402.15" y1="585.50" x2="402.15" y2="588.00" stroke="#999" stroke-width="1" />
<text x="402.15" y="599.60" font-size="8.7" text-anchor="middle" font-weight="normal" fill="#000" stroke="#000" stroke-width="0.16" >28</text>
<line x1="426.75" y1="585.50" x2="426.75" y2="588.00" stroke="#999" stroke-width="1" />
<text x="426.75" y="599.60" font-size="8.7" text-anchor="middle" font-weight="normal" fill="#000" stroke="#000" stroke-width="0.16" >35</text>
<line x1="451.35" y1="585.50" x2="451.35" y2="588.00" stroke="#999" stroke-width="1" />
<text x="451.35" y="599.60" font-size="8.7" text-anchor="middle" font-weight="normal" fill="#000" stroke="#000" stroke-width="0.16" >40</text>
<line x1="475.95" y1="585.50" x2="475.95" y2="588.00" stroke="#999" stroke-width="1" />
<text x="475.95" y="599.60" font-size="8.7" text-anchor="middle" font-weight="normal" fill="#000" stroke="#000" stroke-width="0.16" >47</text>
<line x1="500.55" y1="585.50" x2="500.55" y2="588.00" stroke="#999" stroke-width="1" />
<text x="500.55" y="599.60" font-size="8.7" text-anchor="middle" font-weight="normal" fill="#000" stroke="#000" stroke-width="0.16" >51</text>
<text transform="translate(267.5,532.7) rotate(-90)" font-size="9.1" text-anchor="middle" stroke="#000" stroke-width="0.12">Serum IgG 2b (&#181;g/&#181;l)</text>
<text x="399.00" y="612.20" font-size="9.1" text-anchor="middle" font-weight="normal" fill="#000" stroke="#000" stroke-width="0.16" >Days after tumor inoculation</text>
<line x1="475.95" y1="552.90" x2="475.95" y2="569.46" stroke="#222" stroke-width="1" />
<line x1="473.95" y1="552.90" x2="477.95" y2="552.90" stroke="#222" stroke-width="1" />
<line x1="473.95" y1="569.46" x2="477.95" y2="569.46" stroke="#222" stroke-width="1" />
<line x1="500.55" y1="545.65" x2="500.55" y2="564.28" stroke="#222" stroke-width="1" />
<line x1="498.55" y1="545.65" x2="502.55" y2="545.65" stroke="#222" stroke-width="1" />
<line x1="498.55" y1="564.28" x2="502.55" y2="564.28" stroke="#222" stroke-width="1" />
<polyline points="303.75,583.95 328.35,580.33 352.95,581.36 377.55,579.29 402.15,581.36 426.75,581.88 451.35,578.46 475.95,561.18 500.55,554.97" fill="none" stroke="#000" stroke-width="2.0" stroke-linejoin="round"/>
<rect x="301.45" y="581.65" width="4.60" height="4.60" fill="#000" />
<rect x="326.05" y="578.03" width="4.60" height="4.60" fill="#000" />
<rect x="350.65" y="579.06" width="4.60" height="4.60" fill="#000" />
<rect x="375.25" y="576.99" width="4.60" height="4.60" fill="#000" />
<rect x="399.85" y="579.06" width="4.60" height="4.60" fill="#000" />
<rect x="424.45" y="579.58" width="4.60" height="4.60" fill="#000" />
<rect x="449.05" y="576.16" width="4.60" height="4.60" fill="#000" />
<rect x="473.65" y="558.88" width="4.60" height="4.60" fill="#000" />
<rect x="498.25" y="552.67" width="4.60" height="4.60" fill="#000" />
<polyline points="303.75,584.47 328.35,582.39 352.95,582.91 377.55,582.39 402.15,582.39 426.75,582.39 451.35,576.70 475.95,559.11" fill="none" stroke="#d020e8" stroke-width="2.2" stroke-linejoin="round"/>
<rect x="301.45" y="582.17" width="4.60" height="4.60" fill="#d020e8" />
<rect x="326.05" y="580.10" width="4.60" height="4.60" fill="#d020e8" />
<rect x="350.65" y="580.61" width="4.60" height="4.60" fill="#d020e8" />
<rect x="375.25" y="580.10" width="4.60" height="4.60" fill="#d020e8" />
<rect x="399.85" y="580.10" width="4.60" height="4.60" fill="#d020e8" />
<rect x="424.45" y="580.10" width="4.60" height="4.60" fill="#d020e8" />
<rect x="449.05" y="574.40" width="4.60" height="4.60" fill="#d020e8" />
<rect x="473.65" y="556.81" width="4.60" height="4.60" fill="#d020e8" />
<line x1="352.95" y1="569.46" x2="352.95" y2="586.02" stroke="#222" stroke-width="1" />
<line x1="350.95" y1="569.46" x2="354.95" y2="569.46" stroke="#222" stroke-width="1" />
<line x1="350.95" y1="586.02" x2="354.95" y2="586.02" stroke="#222" stroke-width="1" />
<line x1="377.55" y1="571.53" x2="377.55" y2="583.95" stroke="#222" stroke-width="1" />
<line x1="375.55" y1="571.53" x2="379.55" y2="571.53" stroke="#222" stroke-width="1" />
<line x1="375.55" y1="583.95" x2="379.55" y2="583.95" stroke="#222" stroke-width="1" />
<line x1="402.15" y1="569.98" x2="402.15" y2="578.25" stroke="#222" stroke-width="1" />
<line x1="400.15" y1="569.98" x2="404.15" y2="569.98" stroke="#222" stroke-width="1" />
<line x1="400.15" y1="578.25" x2="404.15" y2="578.25" stroke="#222" stroke-width="1" />
<line x1="426.75" y1="568.42" x2="426.75" y2="574.63" stroke="#222" stroke-width="1" />
<line x1="424.75" y1="568.42" x2="428.75" y2="568.42" stroke="#222" stroke-width="1" />
<line x1="424.75" y1="574.63" x2="428.75" y2="574.63" stroke="#222" stroke-width="1" />
<line x1="451.35" y1="562.73" x2="451.35" y2="568.94" stroke="#222" stroke-width="1" />
<line x1="449.35" y1="562.73" x2="453.35" y2="562.73" stroke="#222" stroke-width="1" />
<line x1="449.35" y1="568.94" x2="453.35" y2="568.94" stroke="#222" stroke-width="1" />
<line x1="500.55" y1="529.61" x2="500.55" y2="533.75" stroke="#222" stroke-width="1" />
<line x1="498.55" y1="529.61" x2="502.55" y2="529.61" stroke="#222" stroke-width="1" />
<line x1="498.55" y1="533.75" x2="502.55" y2="533.75" stroke="#222" stroke-width="1" />
<polyline points="303.75,583.43 328.35,579.81 352.95,577.74 377.55,577.74 402.15,574.12 426.75,571.53 451.35,565.84 475.95,561.70 500.55,531.68" fill="none" stroke="#6a3aa8" stroke-width="2.0" stroke-linejoin="round"/>
<circle cx="303.75" cy="583.43" r="2" fill="#6a3aa8"/>
<circle cx="328.35" cy="579.81" r="2" fill="#6a3aa8"/>
<circle cx="352.95" cy="577.74" r="2" fill="#6a3aa8"/>
<circle cx="377.55" cy="577.74" r="2" fill="#6a3aa8"/>
<circle cx="402.15" cy="574.12" r="2" fill="#6a3aa8"/>
<circle cx="426.75" cy="571.53" r="2" fill="#6a3aa8"/>
<circle cx="451.35" cy="565.84" r="2" fill="#6a3aa8"/>
<circle cx="475.95" cy="561.70" r="2" fill="#6a3aa8"/>
<circle cx="500.55" cy="531.68" r="2" fill="#6a3aa8"/>
<line x1="402.15" y1="537.58" x2="402.15" y2="561.38" stroke="#222" stroke-width="1" />
<line x1="400.15" y1="537.58" x2="404.15" y2="537.58" stroke="#222" stroke-width="1" />
<line x1="400.15" y1="561.38" x2="404.15" y2="561.38" stroke="#222" stroke-width="1" />
<polyline points="303.75,583.43 328.35,581.36 352.95,581.36 377.55,577.22 402.15,549.48" fill="none" stroke="#1a2ad0" stroke-width="2.0" stroke-linejoin="round"/>
<polygon points="303.75,580.83 306.35,583.43 303.75,586.03 301.15,583.43" fill="#1a2ad0" />
<polygon points="328.35,578.76 330.95,581.36 328.35,583.96 325.75,581.36" fill="#1a2ad0" />
<polygon points="352.95,578.76 355.55,581.36 352.95,583.96 350.35,581.36" fill="#1a2ad0" />
<polygon points="377.55,574.62 380.15,577.22 377.55,579.82 374.95,577.22" fill="#1a2ad0" />
<polygon points="402.15,546.88 404.75,549.48 402.15,552.08 399.55,549.48" fill="#1a2ad0" />
<line x1="377.55" y1="546.17" x2="377.55" y2="549.27" stroke="#222" stroke-width="1" />
<line x1="375.55" y1="546.17" x2="379.55" y2="546.17" stroke="#222" stroke-width="1" />
<line x1="375.55" y1="549.27" x2="379.55" y2="549.27" stroke="#222" stroke-width="1" />
<line x1="402.15" y1="504.77" x2="402.15" y2="508.91" stroke="#222" stroke-width="1" />
<line x1="400.15" y1="504.77" x2="404.15" y2="504.77" stroke="#222" stroke-width="1" />
<line x1="400.15" y1="508.91" x2="404.15" y2="508.91" stroke="#222" stroke-width="1" />
<polyline points="303.75,582.39 328.35,578.77 352.95,577.74 377.55,547.72 402.15,506.84" fill="none" stroke="#c82020" stroke-width="2.0" stroke-linejoin="round"/>
<rect x="301.45" y="580.10" width="4.60" height="4.60" fill="#c82020" />
<rect x="326.05" y="576.47" width="4.60" height="4.60" fill="#c82020" />
<rect x="350.65" y="575.44" width="4.60" height="4.60" fill="#c82020" />
<rect x="375.25" y="545.42" width="4.60" height="4.60" fill="#c82020" />
<rect x="399.85" y="504.54" width="4.60" height="4.60" fill="#c82020" />
<line x1="314.00" y1="486.90" x2="336.70" y2="486.90" stroke="#1a2ad0" stroke-width="2.4" />
<polygon points="325.00,484.70 327.20,486.90 325.00,489.10 322.80,486.90" fill="#1a2ad0" />
<text x="337.50" y="489.40" font-size="7" text-anchor="start" font-weight="normal" fill="#000" stroke="#000" stroke-width="0.16" >CD138+</text>
<line x1="314.00" y1="496.40" x2="336.70" y2="496.40" stroke="#c82020" stroke-width="2.4" />
<rect x="322.80" y="494.20" width="4.40" height="4.40" fill="#c82020" />
<text x="337.50" y="498.90" font-size="7" text-anchor="start" font-weight="normal" fill="#000" stroke="#000" stroke-width="0.16" >CD138-</text>
<line x1="314.00" y1="505.90" x2="336.70" y2="505.90" stroke="#000" stroke-width="2.4" />
<rect x="322.80" y="503.70" width="4.40" height="4.40" fill="#000" />
<text x="337.50" y="508.40" font-size="7" text-anchor="start" font-weight="normal" fill="#000" stroke="#000" stroke-width="0.16" >CAY10404</text>
<line x1="314.00" y1="515.40" x2="336.70" y2="515.40" stroke="#d020e8" stroke-width="2.4" />
<rect x="322.80" y="513.20" width="4.40" height="4.40" fill="#d020e8" />
<text x="337.50" y="517.90" font-size="7" text-anchor="start" font-weight="normal" fill="#000" stroke="#000" stroke-width="0.16" >Cyclopamine</text>
<line x1="314.00" y1="524.90" x2="336.70" y2="524.90" stroke="#6a3aa8" stroke-width="2.4" />
<circle cx="325.00" cy="524.90" r="2" fill="#6a3aa8"/>
<text x="337.50" y="527.40" font-size="7" text-anchor="start" font-weight="normal" fill="#000" stroke="#000" stroke-width="0.16" >Itraconazole</text>
<text x="1.25" y="628.00" font-size="12.5" text-anchor="start" font-weight="bold" fill="#000" stroke="#000" stroke-width="0.06" >F</text>
<rect x="249.40" y="696.40" width="80.40" height="6.30" fill="url(#gBar)" stroke="#222" stroke-width="0.9"/>
<ellipse cx="227.4" cy="652.2" rx="45.7" ry="15" fill="url(#gPink)"/>
<ellipse cx="274.3" cy="633.2" rx="40.3" ry="12.6" fill="url(#gGreen)"/>
<ellipse cx="123.6" cy="676.1" rx="25.8" ry="8" fill="url(#gBlue)"/>
<ellipse cx="150.6" cy="697.5" rx="26.9" ry="8.7" fill="url(#gYel)"/>
<ellipse cx="279.9" cy="686.3" rx="26.5" ry="7.4" fill="url(#gCyan)"/>
<ellipse cx="283" cy="700" rx="26" ry="7.5" fill="url(#gCyan)"/>
<ellipse cx="326" cy="732" rx="26.5" ry="9.4" fill="url(#gCyan)"/>
<ellipse cx="316.8" cy="721.9" rx="15.6" ry="4.8" fill="url(#gCyan)"/>
<text x="224.60" y="654.00" font-size="9" text-anchor="middle" font-weight="bold" fill="#000" stroke="#000" stroke-width="0.06" >RAR&#945;2</text>
<text x="273.80" y="636.60" font-size="9" text-anchor="middle" font-weight="bold" fill="#000" stroke="#000" stroke-width="0.06" >Nanog</text>
<text x="123.30" y="679.50" font-size="9" text-anchor="middle" font-weight="bold" fill="#080828" stroke="#080828" stroke-width="0.06" >ABCC3</text>
<text x="150.80" y="701.30" font-size="8.9" text-anchor="middle" font-weight="bold" fill="#000" stroke="#000" stroke-width="0.06" >Bcl-2 et al.</text>
<text x="280.80" y="689.40" font-size="8.8" text-anchor="middle" font-weight="bold" fill="#10243c" stroke="#10243c" stroke-width="0.06" >&#946;-catenin</text>
<text x="281.40" y="703.20" font-size="8.8" text-anchor="middle" font-weight="bold" fill="#10243c" stroke="#10243c" stroke-width="0.06" >TCF/LEF</text>
<text x="326.30" y="735.20" font-size="8.5" text-anchor="middle" font-weight="bold" fill="#10202c" stroke="#10202c" stroke-width="0.06" >Gli1</text>
<text x="317.00" y="724.70" font-size="6.9" text-anchor="middle" font-weight="bold" fill="#10243c" stroke="#10243c" stroke-width="0.06" >CRD-BP</text>
<line x1="250.60" y1="661.50" x2="250.60" y2="651.20" stroke="#000" stroke-width="2.8" />
<polygon points="250.60,643.20 254.60,651.20 246.60,651.20" fill="#000" />
<line x1="314.20" y1="632.30" x2="334.50" y2="632.30" stroke="#000" stroke-width="2.4" />
<polygon points="343.50,632.30 334.50,636.80 334.50,627.80" fill="#000" />
<text x="349.40" y="636.00" font-size="9" text-anchor="start" font-weight="bold" fill="#000" stroke="#000" stroke-width="0.06" >Stemness</text>
<line x1="401.40" y1="644.50" x2="401.40" y2="631.50" stroke="#000" stroke-width="3.0" />
<polygon points="401.40,622.10 406.15,631.50 396.65,631.50" fill="#000" />
<line x1="190.00" y1="665.80" x2="157.78" y2="672.31" stroke="#000" stroke-width="0.9" />
<polygon points="151.90,673.50 157.29,669.86 158.28,674.76" fill="#000" />
<line x1="190.50" y1="668.20" x2="167.10" y2="683.69" stroke="#000" stroke-width="0.9" />
<polygon points="162.10,687.00 165.72,681.60 168.48,685.77" fill="#000" />
<line x1="253.00" y1="664.20" x2="259.56" y2="670.76" stroke="#000" stroke-width="0.9" />
<polygon points="263.80,675.00 257.79,672.53 261.33,668.99" fill="#000" />
<line x1="117.90" y1="694.60" x2="107.47" y2="711.47" stroke="#000" stroke-width="2.6" />
<polygon points="103.00,718.70 103.85,709.24 111.08,713.71" fill="#000" />
<text x="64.50" y="733.60" font-size="9" text-anchor="start" font-weight="bold" fill="#000" stroke="#000" stroke-width="0.06" >Drug-resistance</text>
<line x1="142.30" y1="738.80" x2="142.30" y2="728.60" stroke="#000" stroke-width="3.0" />
<polygon points="142.30,719.60 146.80,728.60 137.80,728.60" fill="#000" />
<polyline points="329.30,696.40 329.30,707.60 325.00,707.60" fill="none" stroke="#000" stroke-width="0.9" />
<polygon points="319.50,706.20 325.20,706.20 320.20,713.00" fill="#000" />
<polyline points="329.30,698.80 343.10,698.80 343.10,694.10 350.00,694.10" fill="none" stroke="#000" stroke-width="0.9" />
<polygon points="355.20,694.10 349.60,691.30 349.60,696.90" fill="#000" />
<text x="358.80" y="692.90" font-size="9" text-anchor="start" font-weight="bold" fill="#000" stroke="#000" stroke-width="0.06" >Target gene: Myc,</text>
<text x="358.80" y="702.60" font-size="9" text-anchor="start" font-weight="bold" fill="#000" stroke="#000" stroke-width="0.06" >CyclinD1, CD44 et al.</text>
<path d="M307,672.3 C318,672 329,668 334.5,662 C332,655 326,650 317.5,648 L316.2,650.7 L309.9,642 L317.6,636.7 L318.5,640.5 C327,643 335,650 336.8,661 C336.5,672 322,680 307,680 Z" fill="#3f6f2c" stroke="#1a3510" stroke-width="0.9" stroke-linejoin="round"/>
</svg>
</body></html>
